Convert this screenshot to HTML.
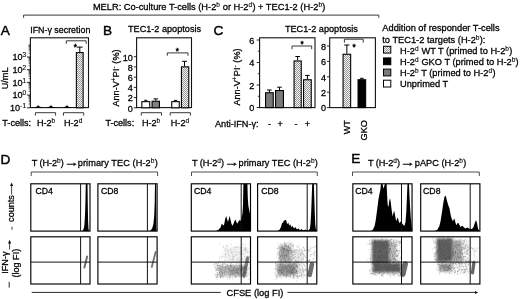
<!DOCTYPE html>
<html><head><meta charset="utf-8"><title>MELR figure</title>
<style>
html,body{margin:0;padding:0;background:#fff;}
body{width:520px;height:299px;overflow:hidden;}
svg{display:block;white-space:pre;font-family:"Liberation Sans",Arial,sans-serif;fill:#000;}
text{stroke:#000;stroke-width:0.28px;}
.pl{stroke:#000;stroke-width:0.45px;}
.st{stroke:#000;stroke-width:0.45px;}
</style></head><body>
<svg width="520" height="299" viewBox="0 0 520 299">
<defs>
<pattern id="hatch" width="2" height="2" patternUnits="userSpaceOnUse">
<rect width="2" height="2" fill="#f4f4f4"/>
<rect x="0" y="0" width="1" height="1" fill="#969696"/>
<rect x="1" y="1" width="1" height="1" fill="#969696"/>
</pattern>
<filter id="b1" x="-30%" y="-30%" width="160%" height="160%"><feGaussianBlur stdDeviation="1.5"/></filter>
<filter id="b4" x="-30%" y="-30%" width="160%" height="160%"><feGaussianBlur stdDeviation="1.0"/></filter>
<filter id="b2" x="-30%" y="-30%" width="160%" height="160%"><feGaussianBlur stdDeviation="0.8"/></filter>
<filter id="b3" x="-100%" y="-30%" width="300%" height="160%"><feGaussianBlur stdDeviation="0.7"/></filter>
</defs>
<rect width="520" height="299" fill="#fff"/>

<text x="92.9" y="9.6" font-size="9.27" text-anchor="start" >MELR: Co-culture T-cells (H-2<tspan baseline-shift="3.0" font-size="6.5" letter-spacing="0.25" stroke-width="0.12">b</tspan> or H-2<tspan baseline-shift="3.0" font-size="6.5" letter-spacing="0.25" stroke-width="0.12">d</tspan>) + TEC1-2 (H-2<tspan baseline-shift="3.0" font-size="6.5" letter-spacing="0.25" stroke-width="0.12">b</tspan>)</text>
<polyline points="23.6,17.8 23.6,15.1 378.8,15.1 378.8,17.8" fill="none" stroke="#222" stroke-width="0.9"/>
<text x="0.8" y="34.6" font-size="13.6" text-anchor="start" class="pl">A</text>
<text x="30.2" y="33.1" font-size="8.9" text-anchor="start" >IFN-γ secretion</text>
<rect x="30.4" y="37.8" width="58.1" height="69.8" fill="none" stroke="#111" stroke-width="1.1"/>
<line x1="27" y1="57.0" x2="30" y2="57.0" stroke="#111" stroke-width="0.9"/>
<text x="26.4" y="60.3" font-size="9.1" text-anchor="end" >10<tspan baseline-shift="3.0" font-size="6.5" letter-spacing="0.25" stroke-width="0.12">3</tspan></text>
<line x1="27" y1="69.7" x2="30" y2="69.7" stroke="#111" stroke-width="0.9"/>
<text x="26.4" y="73.0" font-size="9.1" text-anchor="end" >10<tspan baseline-shift="3.0" font-size="6.5" letter-spacing="0.25" stroke-width="0.12">2</tspan></text>
<line x1="27" y1="82.4" x2="30" y2="82.4" stroke="#111" stroke-width="0.9"/>
<text x="26.4" y="85.7" font-size="9.1" text-anchor="end" >10<tspan baseline-shift="3.0" font-size="6.5" letter-spacing="0.25" stroke-width="0.12">1</tspan></text>
<line x1="27" y1="95.1" x2="30" y2="95.1" stroke="#111" stroke-width="0.9"/>
<text x="26.4" y="98.39999999999999" font-size="9.1" text-anchor="end" >10<tspan baseline-shift="3.0" font-size="6.5" letter-spacing="0.25" stroke-width="0.12">0</tspan></text>
<line x1="27" y1="107.8" x2="30" y2="107.8" stroke="#111" stroke-width="0.9"/>
<text x="26.4" y="111.1" font-size="9.1" text-anchor="end" >10<tspan baseline-shift="3.0" font-size="6.5" letter-spacing="0.25" stroke-width="0.12">-1</tspan></text>
<line x1="28.6" y1="103.97691905506744" x2="30" y2="103.97691905506744" stroke="#111" stroke-width="0.6"/>
<line x1="28.6" y1="101.74056006506028" x2="30" y2="101.74056006506028" stroke="#111" stroke-width="0.6"/>
<line x1="28.6" y1="100.15383811013487" x2="30" y2="100.15383811013487" stroke="#111" stroke-width="0.6"/>
<line x1="28.6" y1="98.92308094493256" x2="30" y2="98.92308094493256" stroke="#111" stroke-width="0.6"/>
<line x1="28.6" y1="97.91747912012772" x2="30" y2="97.91747912012772" stroke="#111" stroke-width="0.6"/>
<line x1="28.6" y1="97.06725489181893" x2="30" y2="97.06725489181893" stroke="#111" stroke-width="0.6"/>
<line x1="28.6" y1="96.33075716520231" x2="30" y2="96.33075716520231" stroke="#111" stroke-width="0.6"/>
<line x1="28.6" y1="95.68112013012058" x2="30" y2="95.68112013012058" stroke="#111" stroke-width="0.6"/>
<line x1="28.6" y1="91.27691905506744" x2="30" y2="91.27691905506744" stroke="#111" stroke-width="0.6"/>
<line x1="28.6" y1="89.04056006506029" x2="30" y2="89.04056006506029" stroke="#111" stroke-width="0.6"/>
<line x1="28.6" y1="87.45383811013488" x2="30" y2="87.45383811013488" stroke="#111" stroke-width="0.6"/>
<line x1="28.6" y1="86.22308094493256" x2="30" y2="86.22308094493256" stroke="#111" stroke-width="0.6"/>
<line x1="28.6" y1="85.21747912012772" x2="30" y2="85.21747912012772" stroke="#111" stroke-width="0.6"/>
<line x1="28.6" y1="84.36725489181893" x2="30" y2="84.36725489181893" stroke="#111" stroke-width="0.6"/>
<line x1="28.6" y1="83.63075716520231" x2="30" y2="83.63075716520231" stroke="#111" stroke-width="0.6"/>
<line x1="28.6" y1="82.98112013012057" x2="30" y2="82.98112013012057" stroke="#111" stroke-width="0.6"/>
<line x1="28.6" y1="78.57691905506744" x2="30" y2="78.57691905506744" stroke="#111" stroke-width="0.6"/>
<line x1="28.6" y1="76.34056006506029" x2="30" y2="76.34056006506029" stroke="#111" stroke-width="0.6"/>
<line x1="28.6" y1="74.75383811013486" x2="30" y2="74.75383811013486" stroke="#111" stroke-width="0.6"/>
<line x1="28.6" y1="73.52308094493256" x2="30" y2="73.52308094493256" stroke="#111" stroke-width="0.6"/>
<line x1="28.6" y1="72.51747912012772" x2="30" y2="72.51747912012772" stroke="#111" stroke-width="0.6"/>
<line x1="28.6" y1="71.66725489181894" x2="30" y2="71.66725489181894" stroke="#111" stroke-width="0.6"/>
<line x1="28.6" y1="70.93075716520232" x2="30" y2="70.93075716520232" stroke="#111" stroke-width="0.6"/>
<line x1="28.6" y1="70.28112013012057" x2="30" y2="70.28112013012057" stroke="#111" stroke-width="0.6"/>
<line x1="28.6" y1="65.87691905506745" x2="30" y2="65.87691905506745" stroke="#111" stroke-width="0.6"/>
<line x1="28.6" y1="63.640560065060285" x2="30" y2="63.640560065060285" stroke="#111" stroke-width="0.6"/>
<line x1="28.6" y1="62.053838110134876" x2="30" y2="62.053838110134876" stroke="#111" stroke-width="0.6"/>
<line x1="28.6" y1="60.82308094493256" x2="30" y2="60.82308094493256" stroke="#111" stroke-width="0.6"/>
<line x1="28.6" y1="59.81747912012772" x2="30" y2="59.81747912012772" stroke="#111" stroke-width="0.6"/>
<line x1="28.6" y1="58.96725489181894" x2="30" y2="58.96725489181894" stroke="#111" stroke-width="0.6"/>
<line x1="28.6" y1="58.23075716520231" x2="30" y2="58.23075716520231" stroke="#111" stroke-width="0.6"/>
<line x1="28.6" y1="57.581120130120574" x2="30" y2="57.581120130120574" stroke="#111" stroke-width="0.6"/>
<line x1="28.6" y1="53.17691905506744" x2="30" y2="53.17691905506744" stroke="#111" stroke-width="0.6"/>
<line x1="28.6" y1="50.94056006506028" x2="30" y2="50.94056006506028" stroke="#111" stroke-width="0.6"/>
<line x1="28.6" y1="49.35383811013487" x2="30" y2="49.35383811013487" stroke="#111" stroke-width="0.6"/>
<line x1="28.6" y1="48.12308094493256" x2="30" y2="48.12308094493256" stroke="#111" stroke-width="0.6"/>
<line x1="28.6" y1="47.117479120127726" x2="30" y2="47.117479120127726" stroke="#111" stroke-width="0.6"/>
<line x1="28.6" y1="46.267254891818936" x2="30" y2="46.267254891818936" stroke="#111" stroke-width="0.6"/>
<line x1="28.6" y1="45.53075716520232" x2="30" y2="45.53075716520232" stroke="#111" stroke-width="0.6"/>
<line x1="28.6" y1="44.88112013012057" x2="30" y2="44.88112013012057" stroke="#111" stroke-width="0.6"/>
<text transform="translate(7.9 78.4) rotate(-90)" font-size="9.1" text-anchor="middle" >U/mL</text>
<path d="M33.900000000000006,108 L35.6,106.9 L37.0,106.4 L37.7,105.4 L38.7,105.4 L39.400000000000006,106.4 L40.800000000000004,106.9 L42.5,108Z" fill="#000"/>
<path d="M46.6,108 L48.3,106.9 L49.699999999999996,106.4 L50.4,105.4 L51.4,105.4 L52.1,106.4 L53.5,106.9 L55.199999999999996,108Z" fill="#000"/>
<path d="M62.60000000000001,108 L64.30000000000001,106.9 L65.7,106.4 L66.4,105.4 L67.4,105.4 L68.10000000000001,106.4 L69.5,106.9 L71.2,108Z" fill="#000"/>
<line x1="79.8" y1="52" x2="79.8" y2="47.1" stroke="#000" stroke-width="1.0"/>
<line x1="77.0" y1="47.1" x2="82.6" y2="47.1" stroke="#000" stroke-width="1.0"/>
<rect x="76.35" y="52.55" width="6.8" height="55.25" fill="url(#hatch)" stroke="#000" stroke-width="1.1"/>
<polyline points="66.3,43.8 66.3,40.8 86.2,40.8 86.2,43.8" fill="none" stroke="#222" stroke-width="0.9"/>
<text x="75.4" y="50.3" font-size="8.2" text-anchor="middle" class="st">*</text>
<polyline points="35.4,115.60000000000001 35.4,112.7 55.6,112.7 55.6,115.60000000000001" fill="none" stroke="#222" stroke-width="0.9"/>
<polyline points="63.5,115.60000000000001 63.5,112.7 83.7,112.7 83.7,115.60000000000001" fill="none" stroke="#222" stroke-width="0.9"/>
<text x="2.3" y="126.2" font-size="9.1" text-anchor="start" >T-cells:</text>
<text x="36.9" y="126.2" font-size="9.1" text-anchor="start" >H-2<tspan baseline-shift="3.0" font-size="6.5" letter-spacing="0.25" stroke-width="0.12">b</tspan></text>
<text x="64" y="126.2" font-size="9.1" text-anchor="start" >H-2<tspan baseline-shift="3.0" font-size="6.5" letter-spacing="0.25" stroke-width="0.12">d</tspan></text>
<text x="103" y="34.6" font-size="13.6" text-anchor="start" class="pl">B</text>
<text x="128.0" y="31.7" font-size="9.13" text-anchor="start" >TEC1-2 apoptosis</text>
<rect x="136.6" y="37.8" width="54.9" height="69.8" fill="none" stroke="#111" stroke-width="1.1"/>
<line x1="133.8" y1="107.8" x2="136.6" y2="107.8" stroke="#111" stroke-width="0.9"/>
<text x="132.9" y="111.7" font-size="9.1" text-anchor="end" >0</text>
<line x1="133.8" y1="97.58" x2="136.6" y2="97.58" stroke="#111" stroke-width="0.9"/>
<text x="132.9" y="101.48" font-size="9.1" text-anchor="end" >2</text>
<line x1="133.8" y1="87.36" x2="136.6" y2="87.36" stroke="#111" stroke-width="0.9"/>
<text x="132.9" y="91.26" font-size="9.1" text-anchor="end" >4</text>
<line x1="133.8" y1="77.13999999999999" x2="136.6" y2="77.13999999999999" stroke="#111" stroke-width="0.9"/>
<text x="132.9" y="81.03999999999999" font-size="9.1" text-anchor="end" >6</text>
<line x1="133.8" y1="66.91999999999999" x2="136.6" y2="66.91999999999999" stroke="#111" stroke-width="0.9"/>
<text x="132.9" y="70.82" font-size="9.1" text-anchor="end" >8</text>
<line x1="133.8" y1="56.699999999999996" x2="136.6" y2="56.699999999999996" stroke="#111" stroke-width="0.9"/>
<text x="132.9" y="60.599999999999994" font-size="9.1" text-anchor="end" >10</text>
<text transform="translate(119.3 78) rotate(-90)" font-size="9.1" text-anchor="middle" >Ann-V<tspan baseline-shift="3.0" font-size="6.5" letter-spacing="0.25" stroke-width="0.12">+</tspan>PI<tspan baseline-shift="3.0" font-size="6.5" letter-spacing="0.25" stroke-width="0.12">-</tspan> (%)</text>
<line x1="145.8" y1="101.1" x2="145.8" y2="100.3" stroke="#000" stroke-width="1.0"/>
<line x1="144.20000000000002" y1="100.3" x2="147.4" y2="100.3" stroke="#000" stroke-width="1.0"/>
<rect x="141.85000000000002" y="101.64999999999999" width="7.9" height="6.15" fill="#fff" stroke="#000" stroke-width="1.1"/>
<line x1="155.75" y1="100.7" x2="155.75" y2="98.9" stroke="#000" stroke-width="1.0"/>
<line x1="153.45" y1="98.9" x2="158.05" y2="98.9" stroke="#000" stroke-width="1.0"/>
<rect x="152.05" y="101.25" width="7.4" height="6.55" fill="#808080" stroke="#000" stroke-width="1.1"/>
<line x1="175.5" y1="101.1" x2="175.5" y2="100.4" stroke="#000" stroke-width="1.0"/>
<line x1="173.9" y1="100.4" x2="177.1" y2="100.4" stroke="#000" stroke-width="1.0"/>
<rect x="171.75" y="101.64999999999999" width="7.5" height="6.15" fill="#fff" stroke="#000" stroke-width="1.1"/>
<line x1="184.5" y1="66.3" x2="184.5" y2="61.3" stroke="#000" stroke-width="1.0"/>
<line x1="182.1" y1="61.3" x2="186.9" y2="61.3" stroke="#000" stroke-width="1.0"/>
<rect x="181.45000000000002" y="66.85" width="7.3" height="40.95" fill="url(#hatch)" stroke="#000" stroke-width="1.1"/>
<polyline points="167.3,55.699999999999996 167.3,52.9 188,52.9 188,55.699999999999996" fill="none" stroke="#222" stroke-width="0.9"/>
<text x="177.3" y="53.8" font-size="8.2" text-anchor="middle" class="st">*</text>
<polyline points="141.3,115.60000000000001 141.3,112.7 161.5,112.7 161.5,115.60000000000001" fill="none" stroke="#222" stroke-width="0.9"/>
<polyline points="170.2,115.60000000000001 170.2,112.7 190.4,112.7 190.4,115.60000000000001" fill="none" stroke="#222" stroke-width="0.9"/>
<text x="105.4" y="126.2" font-size="9.1" text-anchor="start" >T-cells:</text>
<text x="141.9" y="126.2" font-size="9.1" text-anchor="start" >H-2<tspan baseline-shift="3.0" font-size="6.5" letter-spacing="0.25" stroke-width="0.12">b</tspan></text>
<text x="170.8" y="126.2" font-size="9.1" text-anchor="start" >H-2<tspan baseline-shift="3.0" font-size="6.5" letter-spacing="0.25" stroke-width="0.12">d</tspan></text>
<text x="213.6" y="34.6" font-size="13.6" text-anchor="start" class="pl">C</text>
<text x="284.9" y="31.6" font-size="9.13" text-anchor="start" >TEC1-2 apoptosis</text>
<rect x="259.6" y="37.8" width="55.4" height="69.8" fill="none" stroke="#111" stroke-width="1.1"/>
<line x1="256.7" y1="107.5" x2="259.6" y2="107.5" stroke="#111" stroke-width="0.9"/>
<text x="254.3" y="111.3" font-size="9.1" text-anchor="end" >0</text>
<line x1="257.8" y1="96.25" x2="259.6" y2="96.25" stroke="#111" stroke-width="0.8"/>
<line x1="256.7" y1="85.0" x2="259.6" y2="85.0" stroke="#111" stroke-width="0.9"/>
<text x="254.3" y="88.8" font-size="9.1" text-anchor="end" >2</text>
<line x1="257.8" y1="73.75" x2="259.6" y2="73.75" stroke="#111" stroke-width="0.8"/>
<line x1="256.7" y1="62.5" x2="259.6" y2="62.5" stroke="#111" stroke-width="0.9"/>
<text x="254.3" y="66.3" font-size="9.1" text-anchor="end" >4</text>
<line x1="257.8" y1="51.25" x2="259.6" y2="51.25" stroke="#111" stroke-width="0.8"/>
<line x1="256.7" y1="40.0" x2="259.6" y2="40.0" stroke="#111" stroke-width="0.9"/>
<text x="254.3" y="43.8" font-size="9.1" text-anchor="end" >6</text>
<text transform="translate(240.2 77) rotate(-90)" font-size="9.1" text-anchor="middle" >Ann-V<tspan baseline-shift="3.0" font-size="6.5" letter-spacing="0.25" stroke-width="0.12">+</tspan>PI<tspan baseline-shift="3.0" font-size="6.5" letter-spacing="0.25" stroke-width="0.12">-</tspan> (%)</text>
<line x1="269.4" y1="92.2" x2="269.4" y2="90" stroke="#000" stroke-width="1.0"/>
<line x1="267.09999999999997" y1="90" x2="271.7" y2="90" stroke="#000" stroke-width="1.0"/>
<rect x="265.55" y="92.75" width="7.7" height="14.85" fill="#7a7a7a" stroke="#000" stroke-width="1.1"/>
<line x1="279.5" y1="90" x2="279.5" y2="87.2" stroke="#000" stroke-width="1.0"/>
<line x1="277.2" y1="87.2" x2="281.8" y2="87.2" stroke="#000" stroke-width="1.0"/>
<rect x="275.55" y="90.55" width="7.9" height="17.05" fill="#7a7a7a" stroke="#000" stroke-width="1.1"/>
<line x1="297.65" y1="60.4" x2="297.65" y2="56.5" stroke="#000" stroke-width="1.0"/>
<line x1="295.34999999999997" y1="56.5" x2="299.95" y2="56.5" stroke="#000" stroke-width="1.0"/>
<rect x="294.05" y="60.949999999999996" width="7.2" height="46.65" fill="url(#hatch)" stroke="#000" stroke-width="1.1"/>
<line x1="307.4" y1="79.2" x2="307.4" y2="75.4" stroke="#000" stroke-width="1.0"/>
<line x1="305.09999999999997" y1="75.4" x2="309.7" y2="75.4" stroke="#000" stroke-width="1.0"/>
<rect x="303.55" y="79.75" width="7.7" height="27.85" fill="url(#hatch)" stroke="#000" stroke-width="1.1"/>
<polyline points="292,49.2 292,46 311.7,46 311.7,49.2" fill="none" stroke="#222" stroke-width="0.9"/>
<text x="302" y="46.5" font-size="8.2" text-anchor="middle" class="st">*</text>
<rect x="329.7" y="37.8" width="45.7" height="69.8" fill="none" stroke="#111" stroke-width="1.1"/>
<line x1="327" y1="107.6" x2="329.7" y2="107.6" stroke="#111" stroke-width="0.9"/>
<text x="326" y="111.39999999999999" font-size="9.1" text-anchor="end" >0</text>
<line x1="327" y1="92.19999999999999" x2="329.7" y2="92.19999999999999" stroke="#111" stroke-width="0.9"/>
<text x="326" y="95.99999999999999" font-size="9.1" text-anchor="end" >2</text>
<line x1="327" y1="76.8" x2="329.7" y2="76.8" stroke="#111" stroke-width="0.9"/>
<text x="326" y="80.6" font-size="9.1" text-anchor="end" >4</text>
<line x1="327" y1="61.39999999999999" x2="329.7" y2="61.39999999999999" stroke="#111" stroke-width="0.9"/>
<text x="326" y="65.19999999999999" font-size="9.1" text-anchor="end" >6</text>
<line x1="327" y1="45.99999999999999" x2="329.7" y2="45.99999999999999" stroke="#111" stroke-width="0.9"/>
<text x="326" y="49.79999999999999" font-size="9.1" text-anchor="end" >8</text>
<line x1="346.85" y1="53.7" x2="346.85" y2="45" stroke="#000" stroke-width="1.0"/>
<line x1="344.25" y1="45" x2="349.45000000000005" y2="45" stroke="#000" stroke-width="1.0"/>
<rect x="343.05" y="54.25" width="7.6" height="53.35" fill="url(#hatch)" stroke="#000" stroke-width="1.1"/>
<line x1="361.85" y1="79.2" x2="361.85" y2="78.3" stroke="#000" stroke-width="1.0"/>
<line x1="360.05" y1="78.3" x2="363.65000000000003" y2="78.3" stroke="#000" stroke-width="1.0"/>
<rect x="358.05" y="79.75" width="7.6" height="27.85" fill="#000" stroke="#000" stroke-width="1.1"/>
<polyline points="344.4,42.6 344.4,39.2 363.2,39.2 363.2,42.6" fill="none" stroke="#222" stroke-width="0.9"/>
<text x="354.2" y="50.3" font-size="8.2" text-anchor="middle" class="st">*</text>
<text x="215" y="127" font-size="9.15" text-anchor="start" >Anti-IFN-γ:</text>
<text x="269.6" y="127" font-size="9.1" text-anchor="middle" >-</text>
<text x="280.2" y="127" font-size="9.1" text-anchor="middle" >+</text>
<text x="296.1" y="127" font-size="9.1" text-anchor="middle" >-</text>
<text x="307.4" y="127" font-size="9.1" text-anchor="middle" >+</text>
<text transform="translate(350.4 120.2) rotate(-90)" font-size="9.1" text-anchor="end" >WT</text>
<text transform="translate(367.2 120.2) rotate(-90)" font-size="9.1" text-anchor="end" >GKO</text>
<text x="382.3" y="31.3" font-size="9.28" text-anchor="start" >Addition of responder T-cells</text>
<text x="382.3" y="42.5" font-size="9.28" text-anchor="start" >to TEC1-2 targets (H-2<tspan baseline-shift="3.0" font-size="6.5" letter-spacing="0.25" stroke-width="0.12">b</tspan>):</text>
<rect x="383.5" y="46.3" width="7.3" height="6.8" fill="url(#hatch)" stroke="#000" stroke-width="1.0"/>
<rect x="383.5" y="57.9" width="7.3" height="6.8" fill="#000" stroke="#000" stroke-width="1.0"/>
<rect x="383.5" y="69.1" width="7.3" height="6.8" fill="#7a7a7a" stroke="#000" stroke-width="1.0"/>
<rect x="383.5" y="80.2" width="7.3" height="6.8" fill="#fff" stroke="#000" stroke-width="1.0"/>
<text x="400" y="53.6" font-size="9.28" text-anchor="start" >H-2<tspan baseline-shift="3.0" font-size="6.5" letter-spacing="0.25" stroke-width="0.12">d</tspan> WT T (primed to H-2<tspan baseline-shift="3.0" font-size="6.5" letter-spacing="0.25" stroke-width="0.12">b</tspan>)</text>
<text x="400" y="64.8" font-size="9.28" text-anchor="start" >H-2<tspan baseline-shift="3.0" font-size="6.5" letter-spacing="0.25" stroke-width="0.12">d</tspan> GKO T (primed to H-2<tspan baseline-shift="3.0" font-size="6.5" letter-spacing="0.25" stroke-width="0.12">b</tspan>)</text>
<text x="400" y="76" font-size="9.28" text-anchor="start" >H-2<tspan baseline-shift="3.0" font-size="6.5" letter-spacing="0.25" stroke-width="0.12">b</tspan> T (primed to H-2<tspan baseline-shift="3.0" font-size="6.5" letter-spacing="0.25" stroke-width="0.12">d</tspan>)</text>
<text x="400" y="87.1" font-size="9.28" text-anchor="start" >Unprimed T</text>
<text x="0.4" y="163.5" font-size="13.6" text-anchor="start" class="pl">D</text>
<text x="351.3" y="163.1" font-size="13.6" text-anchor="start" class="pl">E</text>
<text x="31.7" y="165.5" font-size="9.2" textLength="32.1" lengthAdjust="spacing">T (H-2<tspan baseline-shift="3.0" font-size="6.5" letter-spacing="0.25" stroke-width="0.12">b</tspan>)</text>
<text transform="translate(63.900000000000006 166.1) scale(1.42 1)" font-size="11" stroke-width="0.1">→</text>
<text x="77.8" y="165.5" font-size="9.2" textLength="79.9" lengthAdjust="spacing">primary TEC (H-2<tspan baseline-shift="3.0" font-size="6.5" letter-spacing="0.25" stroke-width="0.12">b</tspan>)</text>
<text x="192" y="165.8" font-size="9.2" textLength="32.1" lengthAdjust="spacing">T (H-2<tspan baseline-shift="3.0" font-size="6.5" letter-spacing="0.25" stroke-width="0.12">d</tspan>)</text>
<text transform="translate(224.2 166.4) scale(1.42 1)" font-size="11" stroke-width="0.1">→</text>
<text x="238.5" y="165.8" font-size="9.2" textLength="79.4" lengthAdjust="spacing">primary TEC (H-2<tspan baseline-shift="3.0" font-size="6.5" letter-spacing="0.25" stroke-width="0.12">b</tspan>)</text>
<text x="367.9" y="165.8" font-size="9.2" textLength="32.1" lengthAdjust="spacing">T (H-2<tspan baseline-shift="3.0" font-size="6.5" letter-spacing="0.25" stroke-width="0.12">d</tspan>)</text>
<text transform="translate(400.09999999999997 166.4) scale(1.42 1)" font-size="11" stroke-width="0.1">→</text>
<text x="414.79999999999995" y="165.8" font-size="9.2" textLength="51.4" lengthAdjust="spacing">pAPC (H-2<tspan baseline-shift="3.0" font-size="6.5" letter-spacing="0.25" stroke-width="0.12">b</tspan>)</text>
<polyline points="31.2,176 31.2,172 157.6,172 157.6,176" fill="none" stroke="#222" stroke-width="0.8"/>
<polyline points="191.5,176 191.5,172 317.3,172 317.3,176" fill="none" stroke="#222" stroke-width="0.8"/>
<polyline points="352.5,176 352.5,172 479.3,172 479.3,176" fill="none" stroke="#222" stroke-width="0.8"/>
<path d="M82.2,231.0 L83.4,229.6 L84.3,226.0 L84.9,217.0 L85.4,203.0 L85.8,183.8 L87.5,183.8 L87.8,205.0 L88.1,221.0 L88.5,228.5 L89.0,231.0Z" fill="#000"/>
<rect x="30.8" y="183.8" width="59.2" height="47.3" fill="none" stroke="#000" stroke-width="1.15"/>
<line x1="80.6" y1="183.8" x2="80.6" y2="231.1" stroke="#111" stroke-width="1.0"/>
<text x="35.4" y="193.8" font-size="8.7" text-anchor="start" >CD4</text>
<clipPath id="c30"><rect x="30.8" y="236.8" width="59.2" height="47.19999999999999"/></clipPath>
<g clip-path="url(#c30)">
<line x1="87.1" y1="256.5" x2="84.4" y2="267.5" stroke="#444" stroke-width="1.9" opacity="0.8" stroke-linecap="round" filter="url(#b3)"/>
</g>
<rect x="30.8" y="236.8" width="59.2" height="47.2" fill="none" stroke="#000" stroke-width="1.15"/>
<line x1="80.6" y1="236.8" x2="80.6" y2="284" stroke="#111" stroke-width="1.0"/>
<line x1="30.8" y1="262.1" x2="90.0" y2="262.1" stroke="#111" stroke-width="1.0"/>
<path d="M149.5,231.0 L151.0,230.0 L152.3,228.0 L153.4,224.0 L154.2,216.0 L154.7,203.0 L155.0,183.8 L156.1,183.8 L156.4,231.0Z" fill="#000"/>
<rect x="97.9" y="183.8" width="59.2" height="47.3" fill="none" stroke="#000" stroke-width="1.15"/>
<line x1="147.4" y1="183.8" x2="147.4" y2="231.1" stroke="#111" stroke-width="1.0"/>
<text x="100.9" y="193.8" font-size="8.7" text-anchor="start" >CD8</text>
<clipPath id="c97"><rect x="97.9" y="236.8" width="59.2" height="47.19999999999999"/></clipPath>
<g clip-path="url(#c97)">
<line x1="155.6" y1="252" x2="151.8" y2="267" stroke="#444" stroke-width="1.8" opacity="0.75" stroke-linecap="round" filter="url(#b3)"/>
</g>
<rect x="97.9" y="236.8" width="59.2" height="47.2" fill="none" stroke="#000" stroke-width="1.15"/>
<line x1="147.4" y1="236.8" x2="147.4" y2="284" stroke="#111" stroke-width="1.0"/>
<line x1="97.9" y1="262.1" x2="157.10000000000002" y2="262.1" stroke="#111" stroke-width="1.0"/>
<path d="M216.0,231.0 L218.5,229.8 L220.5,227.5 L221.5,224.5 L222.2,223.6 L223.0,225.5 L224.0,225.0 L225.2,219.0 L226.2,216.0 L227.2,219.5 L228.0,222.0 L228.8,219.0 L229.6,216.0 L230.5,219.5 L231.4,223.5 L232.3,225.8 L233.4,224.0 L234.5,221.0 L235.4,219.6 L236.4,222.0 L237.3,223.8 L238.5,221.5 L239.6,220.0 L240.6,221.0 L241.5,218.0 L242.4,214.0 L243.0,205.0 L243.4,183.8 L247.4,183.8 L247.8,198.0 L248.4,206.0 L249.4,211.0 L250.4,216.0 L250.9,231.0Z" fill="#000"/>
<rect x="191.3" y="183.8" width="59.2" height="47.3" fill="none" stroke="#000" stroke-width="1.15"/>
<line x1="241.2" y1="183.8" x2="241.2" y2="231.1" stroke="#111" stroke-width="1.0"/>
<text x="193.9" y="193.8" font-size="8.7" text-anchor="start" >CD4</text>
<clipPath id="c191"><rect x="191.3" y="236.8" width="59.2" height="47.19999999999999"/></clipPath>
<g clip-path="url(#c191)">
<rect x="218" y="266" width="28" height="9.5" fill="#555" opacity="0.36" filter="url(#b1)"/>
<rect x="229" y="265.5" width="18" height="10.5" fill="#555" opacity="0.27" filter="url(#b1)"/>
<rect x="224" y="247" width="25" height="14" fill="#555" opacity="0.08" filter="url(#b1)"/>
<line x1="247.6" y1="258" x2="243.9" y2="276" stroke="#444" stroke-width="3.4" opacity="0.66" stroke-linecap="round" filter="url(#b3)"/>
<path d="M227.5 266.3h.7M232.8 271.1h.7M216.7 265.4h.7M229.9 266.5h.7M237.7 268.9h.7M249.7 268.5h.7M221.4 275.7h.7M220.2 268.3h.7M233.9 266.9h.7M236.8 272.3h.7M229.8 275.3h.7M222.4 275.2h.7M238.5 268.6h.7M229.4 270.0h.7M216.2 270.1h.7M243.2 273.6h.7M232.2 277.3h.7M230.9 273.1h.7M239.1 267.8h.7M228.2 270.0h.7M221.7 274.6h.7M220.2 276.9h.7M217.0 276.4h.7M242.9 268.9h.7M229.9 264.2h.7M221.7 271.3h.7M234.8 269.8h.7M224.9 272.2h.7M231.1 263.6h.7M245.3 272.6h.7M228.1 272.9h.7M218.8 266.5h.7M226.9 266.0h.7M219.1 276.0h.7M236.2 269.4h.7M229.5 278.9h.7M230.4 265.4h.7M226.7 268.2h.7M218.3 265.6h.7M235.0 277.4h.7M243.3 268.1h.7M221.6 273.2h.7M226.9 279.3h.7M244.1 272.1h.7M222.0 264.3h.7M216.7 274.2h.7M243.7 278.2h.7M246.0 267.6h.7M222.8 277.6h.7M241.0 275.0h.7M217.2 272.5h.7M239.2 274.7h.7M227.7 266.6h.7M230.8 265.7h.7M221.7 276.8h.7M222.4 270.1h.7M226.6 264.0h.7M246.1 275.5h.7M231.6 265.4h.7M223.8 272.7h.7M223.7 276.6h.7M225.7 276.6h.7M230.8 270.5h.7M234.1 266.6h.7M216.4 269.7h.7M238.1 270.7h.7M233.9 271.1h.7M223.6 272.7h.7M234.2 267.6h.7M234.0 273.3h.7M229.0 276.4h.7M240.6 265.7h.7M236.2 265.1h.7M219.4 267.4h.7M217.2 274.4h.7M220.5 264.4h.7M245.1 276.7h.7M224.8 275.5h.7M219.7 269.1h.7M221.4 265.9h.7M233.5 268.6h.7M235.5 277.3h.7M241.8 267.5h.7M217.5 264.9h.7M231.6 266.4h.7M222.3 272.8h.7M220.7 270.3h.7M220.0 274.2h.7M219.0 275.3h.7M229.6 277.7h.7M225.7 268.2h.7M219.7 267.0h.7M225.2 269.7h.7M232.5 265.2h.7M226.1 271.6h.7M219.1 265.8h.7M240.8 275.8h.7M226.6 277.2h.7M228.0 271.1h.7M228.7 266.1h.7M218.2 265.4h.7M220.1 271.2h.7M225.1 271.1h.7M220.1 277.3h.7M246.2 276.8h.7M225.9 269.2h.7M230.3 270.8h.7M216.1 269.9h.7M218.4 267.3h.7M232.6 272.5h.7M239.8 267.7h.7M248.7 274.1h.7M218.8 270.5h.7M239.8 270.5h.7M233.3 273.4h.7M236.2 272.3h.7M224.0 269.0h.7M220.2 271.3h.7M235.4 262.9h.7M241.5 269.9h.7M239.0 268.1h.7M218.2 268.5h.7M241.2 269.0h.7M230.4 270.6h.7M237.2 267.7h.7M239.2 265.5h.7M217.7 275.0h.7M237.2 271.6h.7M232.9 268.3h.7M247.5 270.1h.7M243.6 267.4h.7M223.6 271.6h.7M217.4 265.4h.7M239.5 273.4h.7M224.6 263.6h.7M214.7 268.1h.7M219.9 276.1h.7M216.1 263.5h.7M245.0 265.6h.7M224.2 274.5h.7M226.6 265.0h.7M219.8 275.9h.7M223.8 267.9h.7M230.5 274.3h.7M238.8 270.1h.7M241.0 270.6h.7M239.4 263.9h.7M246.7 269.5h.7M225.3 264.5h.7M236.5 270.7h.7M221.8 276.9h.7M232.4 279.8h.7M230.9 265.8h.7M227.8 267.9h.7M235.9 268.4h.7M228.0 268.4h.7M217.4 268.5h.7M230.3 265.3h.7M224.7 271.1h.7M248.1 262.5h.7M216.3 268.1h.7M236.1 276.5h.7M244.6 265.0h.7M220.4 274.3h.7M245.8 272.8h.7M230.3 274.5h.7M225.1 267.3h.7M220.1 275.0h.7M221.0 272.4h.7M228.7 265.6h.7M222.5 273.4h.7M243.3 267.5h.7M246.4 263.4h.7M231.3 266.5h.7M238.2 264.1h.7M225.1 267.5h.7M241.4 265.5h.7M246.1 269.0h.7M223.2 275.9h.7M232.2 270.4h.7M238.0 269.1h.7M223.5 264.6h.7M215.7 277.4h.7M242.5 268.4h.7M223.9 263.7h.7M236.4 269.2h.7M222.5 268.8h.7M249.0 268.8h.7M228.5 268.0h.7M216.3 276.6h.7M220.4 266.2h.7M230.0 262.8h.7M219.8 268.4h.7M240.9 267.1h.7M245.9 273.1h.7M226.1 274.3h.7M243.3 262.4h.7M220.3 277.3h.7M228.4 271.8h.7M246.7 275.8h.7M242.6 266.9h.7M224.8 266.5h.7M222.3 264.0h.7M216.0 276.9h.7M245.3 265.1h.7M217.0 270.1h.7M221.9 273.9h.7M241.0 264.3h.7M242.5 270.4h.7M239.9 268.1h.7M222.2 267.4h.7M230.2 267.1h.7M239.6 262.6h.7M232.2 274.4h.7M217.1 267.1h.7M244.5 267.8h.7M242.8 274.8h.7M247.6 273.3h.7M222.5 267.2h.7M222.6 265.8h.7M215.5 268.0h.7M226.7 273.3h.7M219.1 272.1h.7M237.1 273.7h.7M228.9 277.8h.7M224.9 269.2h.7M244.9 266.6h.7M239.3 276.3h.7M230.1 274.9h.7M230.9 271.6h.7M237.0 272.1h.7M227.1 267.8h.7M233.2 270.4h.7M242.6 265.6h.7M247.7 264.5h.7M243.5 273.9h.7M243.6 268.6h.7M230.3 264.8h.7M221.7 270.0h.7M220.0 277.9h.7M215.3 263.8h.7M244.1 272.4h.7M235.6 272.9h.7M228.9 268.9h.7M215.6 266.3h.7M240.7 265.2h.7M231.7 270.2h.7M217.5 265.0h.7M238.2 275.4h.7M233.8 269.5h.7M248.1 279.1h.7M239.8 276.6h.7M234.5 265.6h.7M241.7 268.6h.7M241.7 269.7h.7M243.1 277.4h.7M222.5 269.6h.7M217.5 277.2h.7M238.4 274.2h.7M217.9 268.6h.7M242.3 275.4h.7M221.2 269.3h.7M241.2 275.1h.7M227.7 265.2h.7M242.1 268.0h.7M238.2 272.8h.7M226.3 266.0h.7M234.3 276.6h.7M220.5 265.9h.7M215.7 269.2h.7M221.7 266.0h.7M235.3 276.7h.7M224.1 273.0h.7M244.1 266.5h.7M215.3 267.6h.7M233.8 274.8h.7M224.3 271.0h.7M229.0 274.9h.7M213.5 265.1h.7M221.2 271.8h.7M242.5 268.9h.7M219.3 272.4h.7M217.4 268.8h.7M238.8 265.7h.7M224.6 274.4h.7M239.4 266.2h.7M231.6 271.8h.7M222.4 264.7h.7M245.2 267.3h.7M241.8 267.8h.7M243.7 277.0h.7M235.5 275.7h.7M232.1 274.1h.7M229.7 266.7h.7M222.4 276.0h.7M221.2 276.6h.7M227.2 264.8h.7M236.8 272.7h.7M217.1 274.5h.7M242.6 275.5h.7M245.8 266.6h.7M222.0 275.4h.7M237.1 266.5h.7M221.0 267.8h.7M226.0 267.6h.7M224.8 267.3h.7M244.3 272.3h.7M215.8 275.0h.7M226.6 265.6h.7M245.6 267.4h.7M216.7 279.0h.7M214.6 274.8h.7M220.7 275.3h.7M225.3 266.6h.7M237.8 272.6h.7M219.1 273.0h.7M235.3 270.2h.7M246.8 265.5h.7M222.4 273.1h.7M228.8 269.7h.7M233.1 270.9h.7M226.8 275.9h.7M237.1 269.3h.7M240.2 270.0h.7M244.4 268.8h.7M238.9 265.6h.7M223.2 267.4h.7M227.8 276.6h.7M219.8 269.1h.7M248.1 268.2h.7M221.9 266.4h.7M229.7 274.9h.7M236.4 270.2h.7M219.5 273.3h.7M243.5 274.7h.7M229.8 277.6h.7M240.0 271.1h.7M235.4 272.8h.7M217.1 274.6h.7M236.1 271.3h.7M237.0 262.6h.7M224.2 249.8h.7M235.1 254.3h.7M225.4 251.3h.7M221.6 257.0h.7M233.8 252.3h.7M233.2 256.8h.7M231.8 262.1h.7M231.6 251.9h.7M219.2 257.8h.7M230.5 258.9h.7M247.3 259.1h.7M231.9 259.3h.7M243.3 253.8h.7M228.0 255.9h.7M245.2 248.5h.7M238.2 252.2h.7M245.4 249.9h.7M232.8 257.8h.7M228.5 254.0h.7M231.6 249.7h.7M248.1 259.4h.7M247.3 259.2h.7M239.2 262.1h.7M239.7 247.2h.7M227.2 245.9h.7M247.3 260.3h.7M238.6 259.4h.7M244.1 256.5h.7M235.9 259.6h.7M236.6 247.4h.7M236.2 247.2h.7M233.1 260.4h.7M221.0 253.6h.7M240.6 251.1h.7M250.5 256.8h.7M219.3 260.6h.7M231.5 253.1h.7M248.9 256.3h.7M231.0 252.2h.7M235.9 251.5h.7M230.4 248.9h.7M243.6 249.9h.7M237.1 258.8h.7M229.5 256.0h.7M239.1 257.4h.7M246.2 249.6h.7M221.3 257.9h.7M240.4 253.3h.7M237.1 254.1h.7M240.9 254.3h.7M243.5 245.1h.7M244.9 250.2h.7M245.1 247.5h.7M228.1 252.6h.7M239.7 254.6h.7M222.9 256.3h.7M247.4 251.4h.7M241.1 251.9h.7M233.9 249.0h.7M224.7 257.0h.7M224.2 260.4h.7M225.9 248.8h.7M242.2 259.0h.7M242.7 244.2h.7M238.5 260.5h.7M229.6 243.8h.7M219.0 243.9h.7M229.2 259.7h.7M235.7 255.3h.7M232.8 258.6h.7M229.8 250.7h.7M232.3 256.3h.7M236.9 262.9h.7M241.6 254.6h.7M250.2 248.6h.7M233.8 256.3h.7M239.9 248.2h.7M219.9 256.3h.7M244.8 259.6h.7M245.5 248.1h.7M246.2 259.8h.7M231.8 259.9h.7M226.0 245.9h.7M237.6 246.8h.7M227.7 250.8h.7M223.4 246.7h.7M239.5 252.5h.7M233.6 247.3h.7M225.0 253.7h.7M231.3 244.8h.7M249.5 256.4h.7M244.6 251.8h.7M235.9 262.9h.7M244.3 249.1h.7M240.6 259.8h.7M245.5 244.5h.7M226.3 245.4h.7M237.7 261.1h.7M248.9 252.1h.7M224.6 254.5h.7M241.1 251.0h.7M235.3 265.3h.7M227.6 250.9h.7M249.1 243.7h.7M243.1 261.2h.7M223.0 263.3h.7M239.8 259.8h.7M222.7 247.1h.7M234.9 247.4h.7M242.4 247.8h.7M221.9 261.4h.7M246.5 252.1h.7M225.2 255.0h.7M232.3 254.8h.7M218.0 263.5h.7M217.3 275.7h.7M214.2 266.7h.7M218.5 270.4h.7M215.8 277.3h.7M214.9 264.4h.7M216.1 266.1h.7M220.1 276.6h.7M213.0 265.2h.7M217.1 265.2h.7M218.3 262.5h.7M218.0 268.8h.7M219.7 265.6h.7M214.5 263.4h.7M215.1 270.7h.7M215.4 274.8h.7M217.9 262.7h.7M216.4 263.8h.7M217.4 277.6h.7M219.3 269.9h.7" stroke="#444" stroke-width="0.7" fill="none" opacity="0.45"/>
</g>
<rect x="191.3" y="236.8" width="59.2" height="47.2" fill="none" stroke="#000" stroke-width="1.15"/>
<line x1="241.2" y1="236.8" x2="241.2" y2="284" stroke="#111" stroke-width="1.0"/>
<line x1="191.3" y1="262.1" x2="250.5" y2="262.1" stroke="#111" stroke-width="1.0"/>
<path d="M277.5,231.0 L279.5,229.8 L281.0,227.0 L281.8,224.0 L282.4,222.6 L283.0,223.0 L283.6,221.0 L284.3,220.2 L285.0,220.6 L285.6,219.8 L286.3,220.6 L286.9,223.4 L287.5,224.0 L288.2,222.6 L288.9,224.6 L289.5,225.4 L290.2,224.2 L290.9,225.8 L291.6,227.2 L292.5,225.8 L293.3,227.4 L294.4,228.3 L295.4,227.0 L296.3,228.4 L297.2,229.4 L298.3,228.2 L299.3,229.5 L300.4,230.0 L301.5,229.0 L302.6,230.0 L304.0,230.3 L305.4,229.6 L306.5,230.3 L308.4,230.2 L309.8,229.0 L310.5,224.0 L311.2,212.0 L311.8,195.0 L312.2,183.8 L313.9,183.8 L314.3,198.0 L314.8,214.0 L315.3,225.0 L315.9,229.6 L317.0,231.0Z" fill="#000"/>
<rect x="257.6" y="183.8" width="59.2" height="47.3" fill="none" stroke="#000" stroke-width="1.15"/>
<line x1="307.2" y1="183.8" x2="307.2" y2="231.1" stroke="#111" stroke-width="1.0"/>
<text x="261.20000000000005" y="193.8" font-size="8.7" text-anchor="start" >CD8</text>
<clipPath id="c257"><rect x="257.6" y="236.8" width="59.2" height="47.19999999999999"/></clipPath>
<g clip-path="url(#c257)">
<rect x="279.5" y="246" width="11.0" height="15.5" fill="#555" opacity="0.5" filter="url(#b1)"/>
<rect x="277.5" y="264" width="18.0" height="11" fill="#555" opacity="0.62" filter="url(#b1)"/>
<rect x="291" y="250" width="12" height="24" fill="#555" opacity="0.13" filter="url(#b1)"/>
<line x1="311.9" y1="264.6" x2="309.7" y2="274.8" stroke="#444" stroke-width="4.6" opacity="0.78" stroke-linecap="round" filter="url(#b3)"/>
<path d="M290.6 259.9h.7M284.3 255.5h.7M277.2 252.9h.7M279.7 257.9h.7M282.7 256.6h.7M281.6 250.7h.7M284.1 243.1h.7M292.2 245.7h.7M282.1 244.6h.7M288.4 254.9h.7M284.6 244.8h.7M290.6 245.1h.7M284.4 245.4h.7M285.3 260.9h.7M278.6 245.4h.7M291.3 250.8h.7M289.0 261.2h.7M288.9 250.2h.7M286.9 260.6h.7M290.2 252.8h.7M292.8 250.9h.7M286.3 245.4h.7M284.3 245.7h.7M292.6 252.8h.7M291.8 242.2h.7M287.3 250.0h.7M287.7 247.2h.7M282.9 249.7h.7M282.4 254.1h.7M290.9 252.0h.7M286.4 246.0h.7M281.7 248.2h.7M277.3 254.3h.7M286.0 256.3h.7M283.2 251.7h.7M282.9 253.8h.7M283.7 249.8h.7M290.7 254.0h.7M283.6 258.0h.7M283.1 252.5h.7M278.3 258.1h.7M280.5 260.2h.7M280.0 257.0h.7M288.5 251.4h.7M288.8 250.4h.7M288.7 243.1h.7M292.9 254.5h.7M287.1 250.8h.7M290.7 249.3h.7M282.8 249.2h.7M282.8 248.9h.7M290.4 250.6h.7M280.8 254.8h.7M289.1 250.6h.7M292.0 244.6h.7M284.6 243.8h.7M283.5 258.1h.7M287.6 253.1h.7M287.2 255.3h.7M285.3 252.7h.7M279.0 254.7h.7M289.0 250.5h.7M281.6 247.1h.7M286.2 248.6h.7M292.9 244.0h.7M290.1 260.4h.7M290.3 249.0h.7M284.8 246.5h.7M286.4 261.8h.7M288.7 258.7h.7M282.8 248.8h.7M288.6 246.0h.7M284.5 255.3h.7M287.6 251.0h.7M281.4 246.6h.7M280.7 260.2h.7M287.2 242.9h.7M288.4 251.5h.7M280.8 261.1h.7M285.8 251.5h.7M280.6 260.8h.7M283.9 243.3h.7M292.2 259.8h.7M289.3 263.1h.7M286.4 250.3h.7M288.8 261.0h.7M285.5 245.6h.7M284.9 251.4h.7M287.6 251.4h.7M284.8 259.3h.7M283.4 249.2h.7M283.7 250.0h.7M280.5 247.8h.7M291.2 260.2h.7M290.4 258.0h.7M284.6 261.3h.7M285.8 246.7h.7M288.2 256.8h.7M283.7 248.6h.7M291.8 254.5h.7M282.5 254.7h.7M286.0 245.7h.7M281.7 255.1h.7M278.9 252.4h.7M283.7 247.8h.7M280.0 250.0h.7M291.6 257.5h.7M280.3 256.5h.7M287.0 256.8h.7M288.3 252.0h.7M287.6 261.3h.7M288.7 243.5h.7M281.1 251.3h.7M278.4 248.0h.7M288.4 247.2h.7M284.1 242.1h.7M290.4 242.9h.7M290.1 247.6h.7M280.3 260.1h.7M290.7 251.5h.7M289.5 244.0h.7M289.1 257.7h.7M289.7 250.5h.7M278.8 251.9h.7M293.0 245.2h.7M288.7 252.9h.7M291.0 246.8h.7M278.5 247.8h.7M284.2 257.4h.7M281.9 253.0h.7M290.9 261.0h.7M279.4 258.5h.7M286.2 255.3h.7M284.7 259.7h.7M279.8 248.0h.7M279.2 257.4h.7M285.6 252.8h.7M283.8 243.6h.7M292.4 256.5h.7M291.6 252.3h.7M285.2 244.4h.7M290.2 260.0h.7M287.6 246.5h.7M279.3 246.7h.7M279.5 259.4h.7M281.4 255.5h.7M284.0 251.1h.7M282.5 258.9h.7M283.5 255.6h.7M289.2 259.1h.7M284.7 248.8h.7M288.4 247.0h.7M285.3 243.7h.7M285.4 244.7h.7M291.7 249.8h.7M281.6 250.1h.7M281.5 259.7h.7M291.7 252.4h.7M285.9 245.3h.7M279.7 261.4h.7M293.9 254.6h.7M291.7 255.5h.7M279.8 251.2h.7M287.2 261.2h.7M279.6 253.3h.7M279.0 253.4h.7M282.7 250.5h.7M281.3 255.8h.7M280.7 244.2h.7M285.9 255.1h.7M281.1 252.8h.7M287.9 245.0h.7M285.7 255.9h.7M292.1 259.3h.7M280.6 245.4h.7M289.9 244.9h.7M290.3 250.5h.7M278.0 248.4h.7M286.0 256.1h.7M288.0 259.0h.7M280.8 256.9h.7M288.3 249.8h.7M290.8 243.3h.7M288.3 259.5h.7M281.8 247.2h.7M278.9 255.0h.7M280.7 258.7h.7M280.1 256.1h.7M285.5 255.3h.7M289.3 240.8h.7M284.2 261.1h.7M290.5 259.1h.7M286.9 246.9h.7M288.3 256.3h.7M279.1 261.1h.7M287.5 250.2h.7M283.9 249.4h.7M277.6 242.9h.7M285.3 245.8h.7M287.7 253.6h.7M280.7 261.1h.7M294.0 258.3h.7M291.0 253.8h.7M283.1 261.9h.7M291.2 257.0h.7M287.0 249.7h.7M285.8 249.8h.7M284.5 250.1h.7M282.0 246.7h.7M279.6 250.8h.7M286.2 244.9h.7M282.0 255.4h.7M290.0 256.5h.7M280.4 263.6h.7M283.7 258.8h.7M276.7 248.6h.7M282.9 248.3h.7M288.6 248.0h.7M288.2 245.6h.7M290.5 244.2h.7M290.7 245.0h.7M278.6 255.0h.7M291.7 258.6h.7M286.0 250.5h.7M279.0 255.4h.7M281.4 248.1h.7M287.9 254.2h.7M294.0 257.6h.7M283.7 246.1h.7M291.3 252.3h.7M284.6 255.1h.7M285.9 249.6h.7M288.6 247.1h.7M290.7 248.3h.7M286.5 243.0h.7M283.9 248.5h.7M292.7 246.6h.7M279.2 253.1h.7M287.6 252.5h.7M281.5 262.6h.7M283.0 248.1h.7M290.4 249.7h.7M288.6 260.9h.7M280.0 255.2h.7M284.4 253.7h.7M287.0 253.9h.7M281.6 252.3h.7M282.4 257.3h.7M283.6 254.1h.7M282.4 246.5h.7M289.5 248.7h.7M285.9 255.9h.7M285.2 260.6h.7M282.4 257.5h.7M291.7 264.4h.7M283.3 262.1h.7M279.3 257.0h.7M280.8 246.2h.7M285.1 259.3h.7M293.1 258.6h.7M289.7 247.8h.7M284.7 262.5h.7M283.4 252.1h.7M279.7 256.7h.7M280.5 243.9h.7M280.5 249.9h.7M284.1 256.8h.7M282.8 245.1h.7M277.8 253.8h.7M285.6 255.8h.7M285.8 276.7h.7M294.9 265.8h.7M286.2 267.8h.7M287.6 265.2h.7M290.1 271.1h.7M284.0 264.5h.7M295.1 260.4h.7M290.3 271.9h.7M282.7 273.6h.7M293.0 277.3h.7M279.3 266.6h.7M290.3 272.3h.7M289.9 271.8h.7M279.7 275.5h.7M285.9 268.1h.7M282.3 272.2h.7M284.9 265.4h.7M280.0 270.8h.7M296.2 261.3h.7M285.3 262.1h.7M279.0 268.0h.7M292.2 263.2h.7M286.4 268.9h.7M286.9 262.6h.7M289.7 266.7h.7M283.2 263.2h.7M279.6 264.6h.7M291.5 266.7h.7M295.8 276.2h.7M278.0 272.5h.7M285.2 268.0h.7M291.2 273.1h.7M293.0 271.8h.7M297.6 275.8h.7M283.3 262.2h.7M291.4 270.6h.7M295.8 270.9h.7M283.5 268.9h.7M287.2 268.9h.7M287.9 272.0h.7M286.4 271.0h.7M292.9 264.9h.7M277.5 262.9h.7M292.0 272.4h.7M291.1 272.8h.7M280.9 272.7h.7M295.8 270.8h.7M276.7 266.0h.7M282.5 272.8h.7M286.6 266.9h.7M295.8 263.9h.7M281.6 268.2h.7M284.2 267.8h.7M294.4 273.0h.7M276.0 269.6h.7M287.7 275.1h.7M281.5 269.3h.7M287.0 275.1h.7M275.1 263.4h.7M296.5 265.4h.7M294.1 269.0h.7M290.2 264.5h.7M296.1 267.2h.7M279.7 277.8h.7M284.3 275.3h.7M291.2 273.1h.7M277.0 264.8h.7M287.9 265.7h.7M294.9 266.2h.7M294.8 262.4h.7M283.5 269.9h.7M275.6 269.1h.7M292.6 265.3h.7M299.4 270.1h.7M280.8 271.2h.7M297.7 276.1h.7M288.4 264.0h.7M283.6 264.2h.7M298.0 277.3h.7M285.0 262.2h.7M282.1 273.8h.7M279.8 262.2h.7M289.4 275.0h.7M288.6 270.0h.7M277.3 270.5h.7M282.1 265.7h.7M280.4 274.7h.7M294.4 263.5h.7M296.4 271.2h.7M277.4 270.4h.7M286.3 268.8h.7M280.7 276.1h.7M287.0 276.5h.7M286.9 271.3h.7M280.7 265.5h.7M275.0 267.4h.7M297.0 266.4h.7M289.3 261.3h.7M278.0 260.8h.7M288.6 265.4h.7M290.9 262.8h.7M295.5 264.0h.7M280.8 262.7h.7M283.8 266.0h.7M287.4 273.7h.7M284.0 276.1h.7M291.8 271.1h.7M294.7 272.6h.7M285.1 274.9h.7M293.9 278.1h.7M295.8 272.4h.7M286.6 275.0h.7M294.1 272.9h.7M299.3 276.1h.7M281.7 264.4h.7M285.9 277.4h.7M290.6 273.1h.7M292.1 272.4h.7M286.3 275.8h.7M281.1 273.1h.7M275.4 263.7h.7M292.2 269.8h.7M283.3 276.1h.7M289.3 266.7h.7M289.5 275.1h.7M278.1 274.5h.7M279.2 270.4h.7M281.9 274.9h.7M281.1 269.9h.7M298.7 266.4h.7M288.2 276.6h.7M286.1 266.7h.7M275.3 269.3h.7M286.5 271.3h.7M276.2 276.0h.7M282.7 266.5h.7M286.0 267.6h.7M284.1 274.9h.7M289.6 273.2h.7M295.3 260.7h.7M284.9 277.9h.7M277.3 262.0h.7M284.3 264.8h.7M292.2 269.9h.7M296.1 270.9h.7M286.1 272.3h.7M282.6 276.0h.7M292.9 270.5h.7M296.4 266.2h.7M283.6 268.2h.7M298.1 266.6h.7M297.1 269.7h.7M277.9 269.1h.7M297.1 276.8h.7M286.6 272.7h.7M283.8 270.8h.7M287.0 264.7h.7M285.0 265.8h.7M289.5 264.5h.7M293.0 276.2h.7M281.5 270.9h.7M291.9 273.5h.7M277.3 278.5h.7M289.0 266.3h.7M296.6 267.1h.7M293.1 276.1h.7M285.5 275.8h.7M278.3 268.7h.7M288.0 269.6h.7M283.7 274.7h.7M293.6 271.9h.7M289.7 275.9h.7M293.0 274.2h.7M277.9 269.8h.7M283.3 275.4h.7M281.9 264.2h.7M293.0 267.3h.7M293.5 268.0h.7M275.1 265.8h.7M275.3 275.0h.7M276.7 265.0h.7M289.0 271.6h.7M280.6 274.3h.7M293.4 274.0h.7M274.8 262.9h.7M289.4 266.8h.7M286.2 275.0h.7M299.0 264.5h.7M299.0 264.6h.7M284.9 267.5h.7M283.7 267.4h.7M279.7 267.5h.7M279.7 265.4h.7M287.1 270.8h.7M298.7 272.3h.7M277.0 275.6h.7M291.0 266.9h.7M276.5 264.2h.7M277.0 276.9h.7M293.0 263.8h.7M279.2 276.1h.7M296.4 273.5h.7M279.7 270.8h.7M280.2 276.3h.7M294.9 267.7h.7M290.2 276.4h.7M279.4 271.1h.7M286.5 274.3h.7M288.6 270.9h.7M276.3 277.1h.7M285.8 265.2h.7M295.4 271.5h.7M278.8 272.2h.7M289.4 261.9h.7M293.2 268.6h.7M290.4 271.3h.7M290.4 276.2h.7M289.9 277.6h.7M278.9 276.0h.7M289.7 263.1h.7M297.6 262.5h.7M281.7 272.1h.7M294.6 264.2h.7M281.1 263.8h.7M297.2 273.8h.7M278.6 274.2h.7M295.6 275.2h.7M288.7 270.4h.7M289.0 262.4h.7M287.4 263.2h.7M294.7 274.9h.7M287.2 266.3h.7M287.9 272.4h.7M285.2 276.2h.7M295.6 267.3h.7M293.7 278.4h.7M293.3 263.8h.7M289.8 268.3h.7M283.2 275.2h.7M292.8 272.6h.7M293.6 275.5h.7M285.8 276.1h.7M285.2 265.8h.7M283.1 269.3h.7M295.9 271.7h.7M296.5 266.2h.7M280.9 265.7h.7M296.5 273.5h.7M294.7 269.0h.7M278.4 270.9h.7M280.5 263.8h.7M286.5 275.4h.7M286.4 276.1h.7M277.8 276.9h.7M275.7 279.1h.7M277.6 273.3h.7M292.3 265.2h.7M275.8 265.3h.7M296.1 271.0h.7M288.6 262.1h.7M278.2 264.3h.7M274.6 272.8h.7M281.8 262.9h.7M280.6 269.8h.7M294.4 268.7h.7M296.6 265.9h.7M295.4 264.8h.7M276.8 266.7h.7M288.7 264.0h.7M281.8 269.7h.7M289.3 262.7h.7M276.2 276.5h.7M283.6 273.6h.7M280.1 264.7h.7M281.4 267.0h.7M292.8 266.1h.7M282.9 270.5h.7M296.9 275.5h.7M282.2 264.0h.7M285.7 263.4h.7M286.7 269.5h.7M279.3 269.7h.7M296.1 265.3h.7M289.8 276.1h.7M297.2 271.8h.7M282.1 267.2h.7M277.1 271.6h.7M293.2 267.5h.7M279.5 263.0h.7M296.8 262.2h.7M289.9 269.3h.7M291.2 269.5h.7M288.7 274.0h.7M296.6 265.5h.7M296.2 272.0h.7M296.6 262.9h.7M285.9 274.2h.7M289.8 272.1h.7M276.7 269.1h.7M288.4 277.0h.7M290.0 267.2h.7M297.1 277.1h.7M281.7 272.9h.7M275.5 275.3h.7M274.7 268.5h.7M288.0 265.1h.7M278.9 264.0h.7M284.9 261.8h.7M281.6 270.3h.7M286.2 274.3h.7M296.7 270.9h.7M277.2 262.0h.7M281.2 278.3h.7M282.5 274.1h.7M289.6 265.7h.7M288.3 274.9h.7M297.3 276.3h.7M289.2 267.5h.7M279.8 273.5h.7M277.1 267.8h.7M290.7 269.2h.7M290.3 263.3h.7M297.3 267.9h.7M297.4 278.0h.7M296.0 269.4h.7M290.5 264.9h.7M280.3 264.4h.7M284.2 271.2h.7M295.6 272.4h.7M286.0 263.4h.7M302.1 277.7h.7M303.7 264.6h.7M302.7 270.1h.7M296.1 266.9h.7M305.1 250.5h.7M290.2 253.6h.7M293.8 268.0h.7M292.2 269.3h.7M306.5 275.9h.7M306.3 263.0h.7M295.2 254.2h.7M293.4 248.3h.7M300.4 270.3h.7M301.4 252.3h.7M304.6 249.9h.7M300.1 253.7h.7M303.3 263.9h.7M294.1 269.2h.7M296.8 264.5h.7M294.5 249.9h.7M300.9 259.8h.7M299.4 268.6h.7M294.6 269.3h.7M301.3 254.8h.7M301.2 253.1h.7M303.8 275.1h.7M302.7 269.7h.7M292.3 246.3h.7M300.9 276.0h.7M298.7 262.2h.7M298.0 263.8h.7M303.2 258.0h.7M298.7 254.0h.7M294.4 270.7h.7M294.4 276.6h.7M301.8 266.8h.7M299.5 275.7h.7M292.0 255.2h.7M293.0 257.5h.7M292.7 277.1h.7M292.2 251.3h.7M294.2 262.8h.7M304.1 270.8h.7M297.6 253.5h.7M306.4 270.0h.7M305.7 275.9h.7M300.1 269.8h.7M302.9 277.1h.7M294.0 252.3h.7M291.7 250.5h.7M303.6 270.2h.7M297.3 273.2h.7M303.9 270.1h.7M303.1 254.2h.7M304.3 256.3h.7M296.5 249.5h.7M296.3 265.4h.7M304.5 274.5h.7M305.4 269.8h.7M303.3 259.2h.7M304.8 257.1h.7M302.1 274.7h.7M306.3 271.6h.7M301.2 273.4h.7M298.5 271.1h.7M303.6 255.7h.7M296.4 246.4h.7M303.2 247.6h.7M302.8 259.4h.7M304.3 265.6h.7M301.8 269.6h.7M297.6 247.5h.7M301.0 259.8h.7M299.2 250.8h.7M294.9 270.1h.7M294.0 264.3h.7M297.8 246.9h.7M300.3 255.0h.7M295.0 250.2h.7M305.7 257.5h.7M302.7 254.6h.7M296.5 262.3h.7M298.6 276.0h.7M303.9 250.3h.7M302.7 273.1h.7M297.9 245.4h.7M301.3 275.1h.7M300.7 249.2h.7M301.3 263.8h.7M295.4 263.1h.7M298.7 256.3h.7M302.0 252.6h.7M300.0 276.2h.7M293.0 268.8h.7M301.7 271.8h.7M307.9 260.5h.7M295.3 268.2h.7M292.2 278.3h.7M296.8 250.7h.7M292.7 255.8h.7M294.4 251.8h.7M295.6 260.8h.7M299.6 276.0h.7M299.2 251.2h.7M296.2 277.7h.7M296.8 257.5h.7M301.1 273.9h.7M302.5 269.1h.7M295.0 256.5h.7M297.6 268.2h.7M303.0 256.9h.7M304.4 265.9h.7M298.3 257.8h.7M296.6 273.0h.7M291.7 262.5h.7M298.0 261.9h.7M304.1 255.0h.7M295.7 252.4h.7M296.2 275.8h.7M299.4 273.1h.7M294.1 251.2h.7M293.1 251.9h.7M292.6 270.5h.7M306.3 275.0h.7M294.5 250.8h.7M303.3 247.2h.7M304.3 275.8h.7M293.2 245.9h.7M301.5 250.0h.7M293.0 276.0h.7M298.4 257.7h.7M295.9 280.8h.7M302.3 250.6h.7M296.9 262.1h.7M302.9 271.3h.7M297.5 265.5h.7M294.2 275.0h.7M304.1 250.5h.7M297.3 271.4h.7M302.9 271.3h.7M297.0 267.8h.7M300.9 275.0h.7M300.1 254.9h.7M305.3 270.2h.7M305.4 269.1h.7M295.1 272.9h.7M298.4 250.2h.7M305.1 269.5h.7M301.5 258.3h.7M307.0 249.4h.7M297.9 261.0h.7M302.1 268.2h.7M291.3 252.1h.7M300.9 276.4h.7M306.6 263.9h.7M303.4 272.3h.7M299.0 248.5h.7M303.7 248.1h.7M303.8 248.9h.7M300.2 272.5h.7M291.9 273.2h.7M305.9 260.7h.7M301.9 274.8h.7M296.2 250.5h.7M293.4 250.4h.7M302.8 253.6h.7M305.3 267.6h.7M305.8 261.0h.7M303.4 275.3h.7M302.4 251.0h.7M313.2 259.1h.7M308.6 251.0h.7M310.3 254.8h.7M309.0 259.7h.7M314.1 253.6h.7M316.4 255.4h.7M314.5 251.6h.7M308.4 250.7h.7M310.1 256.3h.7M312.6 254.3h.7M314.3 255.0h.7M311.4 262.4h.7M310.2 248.8h.7M313.9 258.5h.7M317.1 255.7h.7M314.1 252.7h.7M315.1 246.5h.7M312.7 259.0h.7M308.3 260.6h.7M309.7 260.5h.7M310.6 254.9h.7M315.8 263.5h.7M308.9 246.8h.7M309.2 260.6h.7M314.6 246.8h.7M312.6 260.9h.7M310.5 248.2h.7M312.9 253.4h.7M311.3 254.4h.7M309.4 249.7h.7M314.2 251.4h.7M307.5 251.2h.7M314.5 261.6h.7M308.7 255.8h.7M309.9 251.2h.7M307.9 249.6h.7M313.0 247.5h.7M309.2 259.9h.7M311.6 247.5h.7M314.3 255.7h.7" stroke="#444" stroke-width="0.7" fill="none" opacity="0.45"/>
</g>
<rect x="257.6" y="236.8" width="59.2" height="47.2" fill="none" stroke="#000" stroke-width="1.15"/>
<line x1="307.2" y1="236.8" x2="307.2" y2="284" stroke="#111" stroke-width="1.0"/>
<line x1="257.6" y1="262.1" x2="316.8" y2="262.1" stroke="#111" stroke-width="1.0"/>
<path d="M371.0,231.0 L373.0,229.5 L374.6,226.0 L375.6,221.0 L376.5,214.6 L377.5,207.0 L378.5,199.0 L379.5,194.0 L380.4,189.6 L381.0,183.8 L382.6,183.8 L383.1,187.0 L383.6,188.6 L384.3,186.0 L385.0,183.8 L386.6,183.8 L387.1,195.0 L387.7,205.0 L388.5,207.0 L389.2,201.0 L390.0,198.3 L390.7,202.0 L391.5,208.8 L392.1,213.0 L392.7,216.5 L393.4,213.0 L394.2,210.8 L395.2,216.0 L396.2,221.3 L397.0,219.0 L397.7,217.5 L398.7,221.0 L399.6,223.3 L400.3,222.0 L401.0,221.3 L402.5,224.0 L404.4,226.0 L405.5,222.0 L406.3,212.0 L407.0,195.0 L407.5,183.8 L409.0,183.8 L409.6,198.0 L410.2,208.8 L410.8,218.0 L411.5,224.0 L412.2,231.0Z" fill="#000"/>
<rect x="352.85" y="183.8" width="59.2" height="47.3" fill="none" stroke="#000" stroke-width="1.15"/>
<line x1="401.5" y1="183.8" x2="401.5" y2="231.1" stroke="#111" stroke-width="1.0"/>
<text x="355.25" y="193.8" font-size="8.7" text-anchor="start" >CD4</text>
<clipPath id="c352"><rect x="352.85" y="236.8" width="59.2" height="47.19999999999999"/></clipPath>
<g clip-path="url(#c352)">
<rect x="372.0" y="240.0" width="17.3" height="24.0" fill="#555" opacity="0.92" filter="url(#b4)"/>
<rect x="389" y="241.5" width="7" height="20.5" fill="#555" opacity="0.36" filter="url(#b1)"/>
<rect x="372.8" y="263" width="28.0" height="9.6" fill="#555" opacity="0.92" filter="url(#b4)"/>
<line x1="405.3" y1="264.0" x2="402.9" y2="274.2" stroke="#444" stroke-width="5.4" opacity="0.78" stroke-linecap="round" filter="url(#b3)"/>
<path d="M369.1 241.0h.7M385.0 241.3h.7M382.0 241.4h.7M389.8 248.3h.7M375.1 263.7h.7M376.2 245.6h.7M377.3 241.2h.7M366.7 260.1h.7M369.7 243.2h.7M381.4 245.7h.7M390.1 240.8h.7M381.0 256.8h.7M382.1 256.0h.7M387.5 240.4h.7M381.6 254.5h.7M376.8 261.6h.7M379.2 256.3h.7M387.5 259.4h.7M385.7 255.7h.7M370.3 260.2h.7M389.7 259.9h.7M385.1 252.8h.7M389.1 250.9h.7M379.0 251.9h.7M382.1 251.7h.7M378.4 243.8h.7M380.3 257.6h.7M385.2 261.1h.7M379.5 249.0h.7M385.2 255.3h.7M372.5 246.3h.7M377.0 241.8h.7M374.6 253.5h.7M382.6 239.2h.7M380.2 251.9h.7M386.0 243.7h.7M378.2 257.8h.7M379.0 251.1h.7M386.7 258.5h.7M377.7 262.8h.7M373.6 261.8h.7M386.5 262.2h.7M379.2 249.4h.7M372.8 247.6h.7M382.1 248.3h.7M378.6 257.2h.7M375.5 241.7h.7M368.6 244.4h.7M375.2 242.3h.7M380.9 239.0h.7M375.1 249.8h.7M372.0 249.6h.7M377.5 262.4h.7M374.9 252.2h.7M379.6 258.8h.7M375.2 261.4h.7M369.5 254.4h.7M387.0 246.8h.7M387.4 257.5h.7M379.3 249.8h.7M374.3 240.7h.7M375.7 246.1h.7M380.8 242.3h.7M379.0 259.6h.7M374.5 246.0h.7M381.5 240.2h.7M389.6 255.0h.7M380.2 260.1h.7M373.6 248.7h.7M378.9 256.2h.7M378.0 258.3h.7M379.7 255.5h.7M370.3 258.0h.7M382.4 243.4h.7M371.6 243.5h.7M384.4 243.8h.7M379.6 243.1h.7M379.1 245.7h.7M382.2 257.2h.7M381.8 260.0h.7M381.5 248.4h.7M391.2 239.7h.7M385.4 262.8h.7M384.7 245.0h.7M387.0 260.3h.7M379.6 250.1h.7M388.8 249.1h.7M369.3 240.6h.7M383.3 246.1h.7M377.6 258.7h.7M388.6 246.1h.7M390.2 242.4h.7M372.5 252.9h.7M389.2 251.2h.7M385.5 262.1h.7M375.1 242.5h.7M383.6 244.3h.7M388.9 251.7h.7M369.6 258.1h.7M377.2 257.4h.7M382.2 243.0h.7M387.7 258.0h.7M373.1 257.4h.7M370.8 251.9h.7M376.5 248.9h.7M369.3 258.0h.7M379.7 240.7h.7M385.4 259.9h.7M384.5 253.9h.7M390.2 249.1h.7M380.8 260.4h.7M378.0 253.2h.7M371.6 249.5h.7M380.2 261.1h.7M375.5 252.9h.7M381.3 247.9h.7M385.2 255.8h.7M376.7 254.3h.7M385.1 257.6h.7M372.6 237.9h.7M375.3 241.0h.7M379.8 250.7h.7M377.7 239.6h.7M375.1 241.2h.7M385.2 240.0h.7M369.9 260.2h.7M377.4 262.1h.7M379.0 257.8h.7M386.5 248.6h.7M387.0 253.1h.7M378.3 251.8h.7M389.1 260.6h.7M392.3 254.1h.7M386.9 246.0h.7M384.6 253.5h.7M383.3 249.1h.7M375.2 241.1h.7M383.2 247.9h.7M381.2 255.9h.7M370.8 256.1h.7M377.7 251.8h.7M379.3 246.8h.7M389.2 244.9h.7M389.5 260.3h.7M377.7 240.3h.7M367.4 244.2h.7M378.8 241.4h.7M377.7 261.7h.7M373.0 238.9h.7M379.7 252.4h.7M387.4 242.1h.7M375.6 247.5h.7M371.6 242.2h.7M374.4 243.5h.7M382.0 250.3h.7M374.7 241.8h.7M387.9 250.0h.7M382.5 239.7h.7M382.5 244.4h.7M380.5 246.5h.7M381.6 255.1h.7M371.4 242.9h.7M370.0 256.1h.7M374.9 246.4h.7M393.7 259.5h.7M375.4 242.1h.7M389.5 250.6h.7M371.3 244.3h.7M383.1 257.1h.7M370.8 249.7h.7M383.1 242.9h.7M389.1 248.4h.7M384.2 246.8h.7M380.7 261.7h.7M390.9 246.5h.7M387.6 257.8h.7M391.0 243.1h.7M385.2 247.7h.7M388.0 253.1h.7M373.7 244.9h.7M377.0 256.5h.7M374.6 258.5h.7M375.5 239.9h.7M378.4 259.7h.7M380.6 244.1h.7M375.2 256.0h.7M380.8 245.5h.7M387.6 262.6h.7M371.9 255.7h.7M386.3 257.1h.7M371.4 248.1h.7M372.8 256.2h.7M380.4 257.0h.7M380.1 249.8h.7M370.2 262.8h.7M381.6 255.4h.7M376.7 246.7h.7M369.7 243.2h.7M384.6 241.5h.7M378.2 265.2h.7M379.3 241.3h.7M390.6 250.0h.7M368.1 262.0h.7M379.4 251.3h.7M373.7 249.4h.7M382.1 253.3h.7M391.3 239.7h.7M372.3 259.4h.7M386.8 252.4h.7M383.0 245.0h.7M384.1 248.3h.7M379.3 256.7h.7M386.1 252.9h.7M390.3 239.5h.7M387.8 260.3h.7M387.9 252.1h.7M376.7 255.4h.7M373.4 251.7h.7M385.4 237.8h.7M377.1 261.7h.7M380.9 251.8h.7M384.7 246.3h.7M390.4 240.0h.7M383.6 247.1h.7M373.5 252.0h.7M373.4 256.2h.7M390.0 249.3h.7M376.9 251.5h.7M386.3 245.0h.7M380.6 258.8h.7M374.9 239.3h.7M376.6 246.4h.7M383.8 257.9h.7M381.7 260.2h.7M376.0 243.4h.7M370.7 239.4h.7M386.1 257.4h.7M389.5 262.9h.7M375.1 257.8h.7M381.3 252.6h.7M373.7 242.7h.7M384.0 257.1h.7M385.7 245.9h.7M383.6 242.8h.7M369.8 244.3h.7M370.6 254.4h.7M370.9 261.5h.7M377.7 246.9h.7M374.8 256.0h.7M380.5 247.4h.7M375.0 245.5h.7M375.6 256.3h.7M377.4 263.2h.7M376.5 243.9h.7M375.9 258.1h.7M368.8 251.7h.7M378.9 245.8h.7M370.3 259.8h.7M383.0 246.8h.7M376.0 261.2h.7M386.1 242.3h.7M387.6 246.9h.7M393.3 258.9h.7M377.7 256.3h.7M378.6 258.5h.7M388.1 245.5h.7M375.8 261.0h.7M389.0 240.4h.7M368.8 249.3h.7M389.6 249.3h.7M374.4 251.2h.7M378.4 251.6h.7M380.5 243.4h.7M370.8 258.5h.7M388.8 251.2h.7M380.4 240.1h.7M383.2 260.0h.7M386.9 252.4h.7M383.5 250.8h.7M369.6 243.8h.7M378.9 243.6h.7M385.0 247.5h.7M385.2 247.2h.7M382.6 257.7h.7M380.3 246.3h.7M374.2 249.2h.7M388.5 244.2h.7M373.8 255.3h.7M376.8 257.0h.7M387.9 241.0h.7M389.9 248.3h.7M385.6 258.4h.7M381.2 238.1h.7M386.3 239.7h.7M373.6 252.5h.7M378.5 241.9h.7M379.1 242.3h.7M375.5 247.4h.7M384.3 256.1h.7M371.6 240.2h.7M390.7 260.3h.7M398.9 257.8h.7M395.1 264.7h.7M388.6 245.4h.7M394.0 259.1h.7M395.2 246.5h.7M392.3 243.5h.7M391.0 251.7h.7M390.1 256.3h.7M394.8 252.0h.7M393.9 260.9h.7M398.1 261.9h.7M389.1 251.5h.7M397.3 256.3h.7M390.2 261.8h.7M391.0 246.0h.7M391.2 245.1h.7M399.2 260.7h.7M390.8 252.6h.7M398.6 263.0h.7M395.5 244.1h.7M395.6 259.3h.7M397.5 240.8h.7M401.4 257.8h.7M392.0 256.2h.7M390.6 258.0h.7M394.6 251.7h.7M388.8 259.8h.7M393.3 263.1h.7M401.3 257.6h.7M398.6 250.3h.7M396.0 239.9h.7M399.1 243.5h.7M399.9 242.6h.7M398.0 241.8h.7M393.6 249.6h.7M390.2 261.9h.7M398.2 255.7h.7M393.7 251.8h.7M399.6 251.3h.7M392.0 256.1h.7M396.5 251.0h.7M399.9 247.8h.7M393.4 241.6h.7M396.5 256.3h.7M397.1 255.8h.7M389.6 257.3h.7M389.5 260.2h.7M400.4 243.0h.7M396.9 256.3h.7M392.0 254.0h.7M394.9 256.7h.7M396.2 250.5h.7M392.6 248.6h.7M391.3 244.2h.7M389.0 249.2h.7M394.9 241.0h.7M399.6 250.4h.7M395.1 260.1h.7M391.6 260.0h.7M393.4 258.9h.7M398.9 253.2h.7M399.5 242.1h.7M389.6 258.2h.7M393.6 261.8h.7M397.2 250.5h.7M393.6 242.0h.7M390.6 248.7h.7M394.2 255.9h.7M395.6 246.6h.7M396.7 255.1h.7M395.8 243.1h.7M395.7 255.1h.7M397.9 253.4h.7M392.2 245.4h.7M394.5 244.1h.7M390.7 250.1h.7M396.1 249.8h.7M398.6 260.5h.7M393.3 255.5h.7M393.1 261.0h.7M392.5 251.0h.7M391.8 256.6h.7M397.0 250.0h.7M389.7 259.7h.7M394.6 247.4h.7M390.8 259.7h.7M398.1 241.6h.7M390.0 252.9h.7M396.9 245.0h.7M399.8 240.1h.7M399.7 244.8h.7M394.5 248.6h.7M390.9 264.4h.7M395.6 245.5h.7M390.3 254.1h.7M393.4 262.5h.7M392.7 256.4h.7M395.7 244.6h.7M391.0 252.3h.7M394.7 248.5h.7M389.6 247.1h.7M388.8 241.8h.7M393.4 241.1h.7M396.9 242.5h.7M396.0 244.3h.7M394.3 253.5h.7M393.2 243.1h.7M395.0 260.3h.7M395.2 252.7h.7M390.3 260.6h.7M391.2 243.1h.7M397.4 258.4h.7M393.8 257.4h.7M392.7 259.7h.7M394.5 246.5h.7M394.6 245.8h.7M394.5 258.7h.7M394.4 261.0h.7M397.6 244.9h.7M401.9 252.7h.7M393.8 252.5h.7M390.5 242.9h.7M394.9 254.4h.7M399.4 245.5h.7M398.5 258.8h.7M388.0 256.8h.7M392.3 262.2h.7M397.1 256.0h.7M394.7 259.3h.7M394.9 258.9h.7M395.0 260.6h.7M394.3 243.6h.7M392.2 246.6h.7M399.7 242.6h.7M388.8 245.6h.7M396.4 260.4h.7M394.1 254.2h.7M396.0 256.3h.7M398.7 248.2h.7M387.0 260.7h.7M399.7 241.3h.7M393.5 247.4h.7M394.8 246.3h.7M396.3 249.2h.7M394.0 251.0h.7M396.8 262.2h.7M399.0 242.9h.7M391.7 239.4h.7M388.3 254.6h.7M390.9 260.1h.7M392.3 262.9h.7M395.7 252.1h.7M400.1 242.1h.7M394.7 262.0h.7M394.9 246.5h.7M394.1 262.6h.7M400.1 258.3h.7M386.5 247.2h.7M392.2 255.9h.7M398.6 243.0h.7M396.2 242.3h.7M400.4 257.1h.7M401.1 245.7h.7M396.8 255.2h.7M396.9 260.3h.7M391.4 252.2h.7M397.1 252.1h.7M389.6 250.6h.7M390.8 244.0h.7M392.7 258.2h.7M393.1 253.8h.7M394.4 245.6h.7M396.4 241.6h.7M397.4 250.6h.7M399.3 251.8h.7M389.1 248.4h.7M398.0 254.9h.7M394.5 256.9h.7M395.9 254.5h.7M395.9 256.0h.7M395.0 251.0h.7M398.4 250.6h.7M392.9 258.5h.7M389.9 245.1h.7M397.6 260.6h.7M389.1 244.1h.7M390.2 254.8h.7M399.2 241.6h.7M389.1 252.2h.7M396.7 251.6h.7M398.4 253.7h.7M391.9 245.6h.7M393.7 240.0h.7M390.5 241.2h.7M396.3 250.5h.7M396.7 261.0h.7M396.9 240.2h.7M397.3 245.8h.7M393.3 239.8h.7M381.0 276.0h.7M399.8 267.8h.7M373.3 271.1h.7M396.3 263.4h.7M398.5 264.1h.7M399.1 262.7h.7M400.5 274.2h.7M391.4 274.8h.7M403.7 266.1h.7M378.6 265.6h.7M387.5 271.7h.7M391.0 266.5h.7M383.6 272.7h.7M381.4 268.6h.7M383.0 263.2h.7M380.6 272.3h.7M393.5 271.6h.7M396.6 269.4h.7M382.9 274.7h.7M391.6 265.4h.7M387.8 269.9h.7M387.3 270.1h.7M389.6 261.0h.7M402.5 263.0h.7M377.0 261.8h.7M387.3 267.4h.7M377.8 265.4h.7M379.6 267.1h.7M371.7 267.4h.7M370.4 270.8h.7M377.9 261.6h.7M385.9 266.3h.7M389.6 269.3h.7M382.7 273.8h.7M399.0 272.5h.7M375.2 274.6h.7M397.7 274.2h.7M376.8 264.5h.7M384.5 265.7h.7M374.2 272.5h.7M388.6 263.5h.7M388.1 264.8h.7M370.9 273.0h.7M373.2 270.9h.7M372.3 271.2h.7M372.8 269.4h.7M385.8 269.8h.7M381.6 275.3h.7M393.4 270.5h.7M403.8 264.7h.7M387.9 273.2h.7M376.9 266.7h.7M392.7 272.7h.7M396.2 270.6h.7M399.9 262.7h.7M384.4 263.3h.7M386.7 268.5h.7M379.9 267.4h.7M376.1 275.7h.7M378.6 273.2h.7M386.3 263.7h.7M375.9 268.2h.7M400.3 276.0h.7M389.2 265.5h.7M372.7 269.8h.7M372.2 269.9h.7M380.4 265.3h.7M399.7 269.7h.7M403.0 273.6h.7M370.5 273.0h.7M398.2 268.6h.7M394.2 269.1h.7M379.4 263.7h.7M376.6 273.1h.7M373.5 263.7h.7M380.5 268.3h.7M392.2 268.2h.7M372.2 264.9h.7M372.8 268.3h.7M386.8 270.9h.7M381.7 272.7h.7M403.7 268.8h.7M378.4 261.6h.7M389.4 267.8h.7M371.9 273.4h.7M375.4 265.3h.7M392.0 269.0h.7M401.0 267.4h.7M372.0 267.7h.7M400.8 263.9h.7M386.5 270.0h.7M383.6 273.5h.7M374.3 265.9h.7M394.4 273.5h.7M374.7 266.8h.7M402.3 264.7h.7M372.9 273.0h.7M373.8 265.9h.7M379.1 272.7h.7M397.9 261.5h.7M388.3 268.0h.7M374.1 264.7h.7M373.5 271.6h.7M383.4 265.0h.7M389.4 267.3h.7M390.9 264.4h.7M388.6 273.1h.7M369.5 270.3h.7M395.3 266.4h.7M376.8 265.0h.7M394.0 265.6h.7M400.1 264.0h.7M372.2 273.8h.7M391.7 272.6h.7M373.8 273.0h.7M390.0 266.1h.7M370.0 273.8h.7M389.6 268.6h.7M376.3 269.4h.7M369.5 271.3h.7M383.9 273.1h.7M374.9 270.7h.7M391.2 268.3h.7M397.3 263.5h.7M399.1 271.7h.7M401.8 272.1h.7M370.6 267.2h.7M376.1 260.8h.7M369.1 269.7h.7M400.3 265.4h.7M381.8 263.6h.7M390.0 270.9h.7M373.6 274.1h.7M388.0 265.3h.7M399.8 268.3h.7M379.7 267.0h.7M377.3 266.0h.7M373.3 263.1h.7M380.0 272.7h.7M381.4 274.8h.7M397.6 271.2h.7M385.1 263.4h.7M393.7 274.6h.7M386.7 268.8h.7M382.4 266.8h.7M374.1 271.1h.7M375.9 272.6h.7M389.8 264.6h.7M395.4 273.3h.7M377.4 263.6h.7M398.3 268.5h.7M400.1 272.0h.7M386.6 265.1h.7M390.5 276.8h.7M401.8 264.8h.7M383.2 276.0h.7M394.5 275.7h.7M373.2 261.2h.7M400.6 267.1h.7M387.5 274.2h.7M383.0 271.2h.7M392.1 274.8h.7M378.6 265.2h.7M392.5 272.9h.7M375.4 270.7h.7M398.0 269.1h.7M397.8 269.9h.7M375.3 274.9h.7M394.7 266.2h.7M371.8 275.7h.7M379.9 270.9h.7M389.5 275.9h.7M377.7 263.8h.7M372.5 268.0h.7M372.6 274.1h.7M371.1 265.1h.7M384.0 266.7h.7M382.2 275.2h.7M377.4 267.9h.7M395.7 267.5h.7M400.2 267.6h.7M387.2 269.4h.7M393.0 271.0h.7M392.9 262.2h.7M374.2 265.1h.7M390.3 267.3h.7M378.4 272.1h.7M389.1 273.5h.7M382.7 267.2h.7M371.0 269.2h.7M393.0 275.1h.7M381.2 266.5h.7M378.3 270.3h.7M404.1 274.7h.7M398.3 275.8h.7M397.5 267.1h.7M385.0 266.9h.7M375.2 273.2h.7M378.8 273.2h.7M375.9 265.4h.7M371.1 273.6h.7M377.1 274.1h.7M377.4 262.9h.7M392.7 268.6h.7M399.8 268.8h.7M389.3 270.7h.7M381.3 275.8h.7M396.5 270.8h.7M378.7 264.6h.7M388.9 264.3h.7M388.5 269.0h.7M390.5 269.1h.7M400.7 269.2h.7M376.7 270.4h.7M377.0 271.0h.7M389.6 263.5h.7M390.3 275.0h.7M394.4 274.2h.7M403.1 273.2h.7M393.7 266.7h.7M383.6 268.0h.7M399.0 268.5h.7M373.5 274.0h.7M378.9 272.9h.7M382.2 274.5h.7M385.3 267.5h.7M394.3 276.1h.7M393.9 263.1h.7M370.5 273.6h.7M376.0 266.7h.7M398.8 270.1h.7M392.9 274.4h.7M382.1 269.1h.7M392.1 270.1h.7M371.4 269.4h.7M401.8 265.3h.7M376.0 261.5h.7M378.2 266.2h.7M399.0 270.6h.7M371.9 263.0h.7M387.3 272.3h.7M399.4 264.2h.7M393.4 267.5h.7M376.8 270.3h.7M394.7 269.8h.7M380.8 271.6h.7M376.0 265.8h.7M399.3 275.2h.7M372.1 262.3h.7M396.3 263.7h.7M373.7 269.0h.7M381.3 274.2h.7M399.2 276.7h.7M387.9 266.4h.7M377.9 268.0h.7M393.1 262.3h.7M396.1 265.3h.7M391.2 271.2h.7M373.9 264.0h.7M388.9 266.1h.7M383.6 263.3h.7M386.7 267.1h.7M377.1 269.4h.7M399.0 268.9h.7M372.0 262.9h.7M385.2 266.1h.7M399.7 273.2h.7M398.5 275.7h.7M401.3 266.4h.7M395.9 273.5h.7M399.8 269.9h.7M393.6 268.0h.7M387.0 274.7h.7M397.3 267.6h.7M388.8 268.1h.7M402.4 264.3h.7M378.6 272.9h.7M397.0 274.4h.7M379.2 270.5h.7M392.6 265.8h.7M373.9 274.7h.7M393.1 268.1h.7M389.6 274.0h.7M388.7 262.9h.7M380.6 262.5h.7M377.7 262.7h.7M386.7 265.5h.7M395.0 268.7h.7M401.8 274.9h.7M379.6 267.6h.7M378.9 269.8h.7M378.1 269.0h.7M399.4 273.9h.7M395.4 268.3h.7M377.9 267.7h.7M385.4 264.7h.7M379.3 274.4h.7M401.2 275.4h.7M402.5 265.8h.7M372.2 263.5h.7M376.4 264.4h.7M373.8 264.1h.7M374.2 260.4h.7M397.6 264.9h.7M397.4 275.5h.7M379.2 261.7h.7M372.7 270.8h.7M392.4 266.2h.7M397.4 269.5h.7M373.7 268.0h.7M387.3 269.6h.7M378.3 262.0h.7M388.6 263.7h.7M385.3 267.7h.7M385.8 267.1h.7M395.6 265.1h.7M379.4 267.1h.7M402.8 270.7h.7M401.5 276.7h.7M384.1 265.1h.7M375.2 265.8h.7M384.9 272.5h.7M395.9 263.0h.7M376.2 269.2h.7M373.6 264.5h.7M392.5 274.0h.7M395.7 265.1h.7M395.0 273.4h.7M389.1 268.2h.7M403.4 264.3h.7" stroke="#444" stroke-width="0.7" fill="none" opacity="0.45"/>
</g>
<rect x="352.85" y="236.8" width="59.2" height="47.2" fill="none" stroke="#000" stroke-width="1.15"/>
<line x1="401.5" y1="236.8" x2="401.5" y2="284" stroke="#111" stroke-width="1.0"/>
<line x1="352.85" y1="262.1" x2="412.05" y2="262.1" stroke="#111" stroke-width="1.0"/>
<path d="M435.0,231.0 L437.5,229.5 L439.4,226.0 L440.4,222.0 L441.3,216.5 L442.3,210.0 L443.3,203.0 L444.3,197.5 L445.2,195.4 L446.1,197.0 L447.0,201.0 L448.2,205.0 L449.6,208.8 L450.3,213.0 L451.0,216.5 L452.0,219.5 L452.9,221.3 L453.7,219.5 L454.4,218.5 L455.3,222.0 L456.3,225.2 L457.3,223.5 L458.3,222.7 L459.5,225.0 L460.6,227.0 L461.5,226.2 L462.5,225.8 L464.0,227.5 L465.4,228.5 L467.3,227.5 L469.5,228.8 L472.0,229.0 L473.5,227.0 L474.8,223.0 L476.0,220.0 L477.0,223.0 L477.9,228.0 L479.0,230.5 L479.6,231.0Z" fill="#000"/>
<rect x="420.7" y="183.8" width="59.2" height="47.3" fill="none" stroke="#000" stroke-width="1.15"/>
<line x1="470.2" y1="183.8" x2="470.2" y2="231.1" stroke="#111" stroke-width="1.0"/>
<text x="423.09999999999997" y="193.8" font-size="8.7" text-anchor="start" >CD8</text>
<clipPath id="c420"><rect x="420.7" y="236.8" width="59.2" height="47.19999999999999"/></clipPath>
<g clip-path="url(#c420)">
<rect x="436.6" y="238.4" width="16.0" height="23.2" fill="#555" opacity="0.92" filter="url(#b4)"/>
<rect x="452" y="240.5" width="10" height="21.0" fill="#555" opacity="0.48" filter="url(#b1)"/>
<rect x="439" y="263.5" width="13" height="7.5" fill="#555" opacity="0.6" filter="url(#b1)"/>
<line x1="473.9" y1="262.8" x2="472.5" y2="272.8" stroke="#444" stroke-width="3.3" opacity="0.82" stroke-linecap="round" filter="url(#b3)"/>
<path d="M452.4 254.0h.7M437.4 251.5h.7M435.8 260.7h.7M448.2 244.7h.7M434.9 241.7h.7M446.7 245.5h.7M436.5 251.2h.7M448.8 243.9h.7M449.9 254.8h.7M433.8 256.5h.7M447.3 238.4h.7M446.1 258.0h.7M450.0 254.6h.7M450.7 255.4h.7M444.9 248.2h.7M439.6 246.0h.7M449.3 257.5h.7M434.2 256.6h.7M443.0 255.1h.7M446.0 252.1h.7M443.2 255.1h.7M444.8 261.3h.7M444.3 239.8h.7M447.1 242.5h.7M443.5 258.3h.7M435.7 252.8h.7M445.4 254.5h.7M451.9 257.7h.7M438.6 244.6h.7M438.5 248.7h.7M449.0 260.3h.7M442.1 248.0h.7M436.0 242.2h.7M438.1 238.5h.7M435.5 239.2h.7M439.5 242.2h.7M438.9 261.7h.7M450.0 247.5h.7M452.1 242.7h.7M441.0 251.4h.7M432.4 249.1h.7M443.7 253.7h.7M441.0 252.1h.7M434.6 247.1h.7M450.7 240.5h.7M453.8 257.7h.7M449.5 239.5h.7M447.5 240.1h.7M433.8 254.3h.7M434.3 242.9h.7M451.5 248.2h.7M441.3 239.9h.7M440.6 248.8h.7M448.1 258.6h.7M446.6 251.8h.7M440.1 253.0h.7M439.0 262.2h.7M450.8 263.1h.7M443.2 256.7h.7M443.4 250.5h.7M446.5 248.8h.7M436.7 249.9h.7M436.1 252.7h.7M438.7 261.7h.7M433.9 248.3h.7M443.2 250.6h.7M441.6 258.3h.7M449.8 248.8h.7M450.7 238.8h.7M440.2 261.1h.7M441.1 256.1h.7M445.2 241.0h.7M433.3 241.9h.7M439.4 259.3h.7M434.4 259.3h.7M434.7 259.3h.7M450.7 243.6h.7M436.4 253.6h.7M436.4 260.6h.7M445.1 262.0h.7M437.9 253.8h.7M443.1 250.5h.7M438.4 236.9h.7M444.6 249.8h.7M448.3 249.5h.7M447.6 245.8h.7M436.4 260.0h.7M450.1 250.3h.7M447.4 239.4h.7M447.5 251.6h.7M438.8 255.1h.7M448.8 247.8h.7M440.8 260.7h.7M439.4 237.4h.7M447.2 260.9h.7M446.7 259.9h.7M437.8 244.0h.7M439.6 244.8h.7M433.7 253.4h.7M441.7 240.9h.7M432.9 243.0h.7M444.3 261.1h.7M452.5 250.9h.7M445.2 259.3h.7M447.5 257.5h.7M442.1 260.3h.7M447.1 257.6h.7M433.5 254.9h.7M438.8 246.0h.7M448.0 250.0h.7M443.7 244.1h.7M441.0 261.0h.7M443.4 237.5h.7M440.8 261.3h.7M444.9 244.0h.7M439.9 249.1h.7M437.3 249.8h.7M447.9 253.4h.7M443.4 243.9h.7M450.4 239.7h.7M448.3 250.3h.7M441.3 254.7h.7M434.6 247.3h.7M438.5 260.2h.7M453.3 242.7h.7M442.0 260.9h.7M436.0 245.5h.7M435.4 255.9h.7M453.7 253.3h.7M434.4 257.8h.7M438.1 256.8h.7M450.1 239.2h.7M448.3 237.1h.7M449.7 246.8h.7M441.5 244.1h.7M439.6 248.6h.7M439.3 246.2h.7M449.1 257.9h.7M452.5 256.1h.7M453.0 246.9h.7M432.9 237.8h.7M451.8 240.8h.7M441.2 252.5h.7M445.3 257.4h.7M440.9 249.1h.7M440.9 255.8h.7M440.6 253.1h.7M443.7 255.1h.7M440.4 253.5h.7M431.8 238.8h.7M446.9 253.7h.7M447.7 239.7h.7M451.7 242.0h.7M442.3 249.7h.7M444.5 261.2h.7M452.2 248.8h.7M443.4 244.5h.7M445.3 251.2h.7M447.3 238.1h.7M449.2 257.7h.7M448.0 249.5h.7M448.4 247.2h.7M440.2 259.3h.7M437.4 251.3h.7M445.5 260.8h.7M440.3 244.0h.7M449.3 252.4h.7M438.7 251.8h.7M436.4 244.0h.7M446.7 257.4h.7M443.6 251.7h.7M444.4 258.5h.7M435.9 247.5h.7M452.6 237.3h.7M444.4 258.7h.7M437.1 243.2h.7M435.5 251.2h.7M452.4 247.8h.7M445.0 242.9h.7M433.0 240.4h.7M434.7 259.9h.7M447.8 240.3h.7M434.1 261.6h.7M447.2 249.2h.7M445.2 258.1h.7M438.1 262.1h.7M439.3 243.5h.7M440.9 248.8h.7M437.4 239.9h.7M444.0 255.7h.7M438.3 246.8h.7M452.6 246.1h.7M443.1 262.0h.7M435.1 258.7h.7M439.3 254.6h.7M444.4 254.2h.7M439.0 240.7h.7M451.5 245.4h.7M433.4 240.2h.7M435.3 255.9h.7M444.4 245.5h.7M443.0 257.0h.7M447.8 249.4h.7M444.1 257.4h.7M443.9 253.2h.7M448.0 258.4h.7M434.7 253.8h.7M438.9 242.3h.7M442.9 238.6h.7M444.0 239.8h.7M436.2 249.5h.7M436.9 243.5h.7M435.9 253.5h.7M445.7 241.8h.7M450.0 257.1h.7M439.8 247.0h.7M439.7 241.5h.7M451.2 262.3h.7M446.6 247.0h.7M440.8 261.0h.7M441.8 240.5h.7M448.1 257.5h.7M443.8 260.5h.7M450.3 256.7h.7M448.4 256.5h.7M438.1 251.3h.7M436.8 261.0h.7M447.2 248.5h.7M447.3 244.0h.7M433.4 252.1h.7M450.0 256.3h.7M438.2 239.7h.7M436.5 259.8h.7M437.8 260.7h.7M441.4 250.6h.7M453.6 249.9h.7M435.2 242.4h.7M445.5 258.6h.7M450.0 249.7h.7M454.3 239.2h.7M451.8 254.0h.7M437.8 240.3h.7M453.2 261.6h.7M446.8 260.9h.7M448.3 255.4h.7M441.7 242.4h.7M444.7 244.1h.7M453.2 254.4h.7M436.6 251.8h.7M435.1 253.1h.7M437.3 241.2h.7M441.7 238.0h.7M436.8 244.0h.7M443.1 258.0h.7M448.8 240.7h.7M437.9 249.9h.7M451.8 239.0h.7M436.2 259.1h.7M439.1 249.0h.7M444.0 245.7h.7M440.8 252.8h.7M434.6 242.8h.7M437.5 236.2h.7M445.6 258.5h.7M434.9 255.6h.7M446.9 256.7h.7M445.3 260.1h.7M437.8 242.5h.7M449.9 254.5h.7M454.2 245.6h.7M440.7 247.0h.7M451.4 242.8h.7M437.1 252.0h.7M443.9 252.3h.7M448.0 239.0h.7M437.4 251.8h.7M439.9 255.9h.7M453.6 261.5h.7M448.3 251.5h.7M452.3 255.4h.7M444.2 248.3h.7M445.7 259.6h.7M438.7 242.9h.7M448.7 238.7h.7M441.8 238.1h.7M441.0 242.9h.7M439.9 245.7h.7M439.8 248.3h.7M447.8 246.4h.7M445.0 252.5h.7M442.0 241.6h.7M452.6 251.9h.7M439.9 244.0h.7M436.0 254.5h.7M447.4 255.2h.7M445.4 245.9h.7M448.3 256.2h.7M435.3 253.9h.7M440.0 256.2h.7M448.7 239.0h.7M465.7 252.8h.7M460.5 257.0h.7M461.6 250.7h.7M470.0 252.0h.7M453.4 252.6h.7M455.5 247.3h.7M454.0 240.5h.7M469.3 246.8h.7M455.4 242.4h.7M461.0 247.4h.7M461.3 249.6h.7M451.7 251.4h.7M458.4 254.3h.7M464.7 260.0h.7M455.3 252.2h.7M457.0 257.7h.7M468.2 249.3h.7M465.4 245.2h.7M460.9 250.7h.7M467.1 252.0h.7M467.0 250.8h.7M464.1 256.0h.7M462.3 253.6h.7M459.7 255.2h.7M465.9 260.5h.7M466.7 250.2h.7M454.7 252.0h.7M460.0 248.8h.7M455.3 253.0h.7M466.7 240.6h.7M464.8 240.9h.7M456.5 241.1h.7M455.8 245.2h.7M460.6 239.7h.7M457.9 245.3h.7M452.9 255.9h.7M465.9 253.0h.7M465.3 248.5h.7M464.8 250.9h.7M460.8 260.3h.7M464.4 257.3h.7M452.3 252.0h.7M459.6 243.9h.7M460.2 242.3h.7M468.5 241.9h.7M462.8 256.9h.7M460.3 250.1h.7M465.8 249.4h.7M467.5 253.7h.7M455.3 256.6h.7M464.3 240.5h.7M463.7 253.2h.7M468.6 257.2h.7M460.5 256.2h.7M462.3 249.3h.7M467.1 261.8h.7M468.0 247.9h.7M453.1 248.8h.7M465.4 247.7h.7M457.3 255.6h.7M455.4 246.2h.7M468.8 242.7h.7M450.5 253.0h.7M470.3 245.7h.7M460.0 257.3h.7M458.0 261.4h.7M464.0 245.9h.7M464.6 260.3h.7M453.6 247.9h.7M460.5 253.4h.7M460.0 255.1h.7M461.3 242.3h.7M458.1 257.5h.7M458.9 241.7h.7M454.1 259.2h.7M463.2 248.7h.7M455.8 251.1h.7M466.4 251.5h.7M462.9 249.5h.7M469.6 252.5h.7M451.0 244.4h.7M465.1 248.1h.7M462.2 258.6h.7M460.9 253.4h.7M464.8 245.6h.7M461.0 257.4h.7M457.6 253.4h.7M463.2 244.7h.7M465.7 254.3h.7M455.4 247.0h.7M463.9 243.3h.7M469.6 260.2h.7M468.4 246.1h.7M460.9 257.1h.7M451.3 255.2h.7M455.5 240.5h.7M466.0 261.7h.7M457.6 249.1h.7M468.0 258.8h.7M456.6 254.8h.7M459.9 246.2h.7M461.7 257.8h.7M455.8 248.1h.7M459.9 256.2h.7M457.2 245.6h.7M454.9 242.3h.7M467.4 244.2h.7M461.6 260.5h.7M464.6 248.8h.7M453.4 248.6h.7M468.8 241.0h.7M459.8 244.7h.7M450.7 244.5h.7M455.9 257.2h.7M466.2 253.1h.7M458.6 253.6h.7M456.7 262.4h.7M457.2 250.1h.7M461.3 253.6h.7M453.7 244.1h.7M459.8 259.1h.7M462.4 259.1h.7M465.8 251.3h.7M460.2 257.1h.7M466.7 260.4h.7M459.7 252.3h.7M465.2 256.5h.7M456.3 241.9h.7M461.0 260.7h.7M454.0 256.4h.7M463.0 240.7h.7M460.4 249.8h.7M466.6 254.4h.7M457.7 246.3h.7M454.7 246.6h.7M453.0 251.8h.7M463.5 258.4h.7M467.5 250.0h.7M465.0 244.6h.7M469.0 262.4h.7M465.3 261.0h.7M467.0 262.5h.7M453.9 254.1h.7M466.3 244.3h.7M457.4 259.6h.7M464.7 239.6h.7M455.6 259.2h.7M458.1 247.8h.7M468.3 244.9h.7M454.2 245.1h.7M461.3 260.4h.7M458.4 252.4h.7M452.2 250.5h.7M461.6 258.7h.7M469.7 259.5h.7M457.0 257.4h.7M455.1 253.4h.7M468.8 248.8h.7M468.2 254.2h.7M465.4 262.8h.7M467.4 254.2h.7M463.6 247.2h.7M463.6 242.9h.7M461.9 247.5h.7M455.3 253.3h.7M460.0 259.1h.7M459.7 244.1h.7M456.5 241.4h.7M458.5 256.8h.7M458.7 257.1h.7M464.7 246.9h.7M464.1 241.3h.7M469.5 261.5h.7M451.7 255.9h.7M466.4 241.7h.7M456.7 254.0h.7M468.0 260.5h.7M461.6 241.5h.7M455.4 251.1h.7M467.0 249.3h.7M462.2 248.1h.7M456.7 260.0h.7M459.3 250.0h.7M459.5 261.2h.7M453.7 258.4h.7M461.1 250.0h.7M458.3 251.2h.7M463.3 256.9h.7M455.3 250.9h.7M462.0 254.4h.7M454.2 261.2h.7M463.1 243.3h.7M463.1 240.8h.7M456.1 247.2h.7M466.9 244.8h.7M467.0 246.0h.7M458.4 260.8h.7M461.0 253.1h.7M467.4 257.5h.7M464.4 253.4h.7M459.2 259.9h.7M462.9 260.8h.7M453.8 259.8h.7M466.8 251.1h.7M455.6 264.0h.7M470.2 254.2h.7M464.8 259.0h.7M455.6 245.0h.7M456.6 260.9h.7M469.6 255.6h.7M462.2 243.4h.7M455.4 255.7h.7M456.3 259.8h.7M468.0 250.3h.7M466.5 250.1h.7M463.0 256.7h.7M461.7 252.3h.7M459.7 258.3h.7M459.7 253.5h.7M466.1 261.1h.7M460.1 240.4h.7M463.8 248.6h.7M458.1 256.4h.7M457.0 257.3h.7M462.5 260.7h.7M462.1 253.1h.7M456.0 260.3h.7M467.8 247.7h.7M462.1 254.7h.7M458.5 257.9h.7M458.9 251.4h.7M466.9 258.9h.7M462.4 254.7h.7M463.5 247.7h.7M466.6 253.9h.7M455.6 252.5h.7M466.0 246.5h.7M464.6 248.0h.7M456.1 248.7h.7M452.7 263.0h.7M455.7 257.9h.7M459.1 243.9h.7M459.6 250.3h.7M454.0 254.4h.7M464.3 242.4h.7M453.9 241.7h.7M469.7 251.6h.7M462.8 257.2h.7M458.7 243.2h.7M459.8 252.4h.7M462.4 254.9h.7M460.1 240.1h.7M461.2 248.0h.7M457.9 261.4h.7M455.4 242.5h.7M460.6 259.8h.7M467.3 258.8h.7M453.5 255.2h.7M455.1 252.8h.7M461.9 244.7h.7M462.9 247.9h.7M455.5 245.1h.7M465.6 259.2h.7M465.3 263.2h.7M465.1 256.3h.7M451.1 253.4h.7M468.7 260.0h.7M457.9 257.9h.7M452.1 241.6h.7M463.0 244.8h.7M464.9 246.9h.7M467.9 251.0h.7M467.5 254.0h.7M453.6 254.7h.7M456.8 244.8h.7M453.4 246.7h.7M461.2 250.8h.7M457.1 253.8h.7M452.8 252.1h.7M454.2 254.7h.7M467.2 247.8h.7M460.7 252.2h.7M470.6 247.9h.7M462.0 252.9h.7M457.2 242.2h.7M468.6 255.6h.7M453.4 261.3h.7M457.9 241.2h.7M460.6 254.6h.7M464.5 252.3h.7M452.8 252.2h.7M458.2 256.3h.7M463.1 258.8h.7M452.4 254.0h.7M459.5 245.7h.7M467.3 247.3h.7M465.7 246.5h.7M468.3 260.5h.7M454.0 260.5h.7M457.5 244.2h.7M463.1 259.5h.7M464.3 256.5h.7M458.2 262.7h.7M453.6 263.4h.7M470.7 243.2h.7M456.5 263.3h.7M466.6 257.2h.7M454.1 261.5h.7M455.5 250.8h.7M452.9 252.7h.7M465.9 242.5h.7M462.3 246.2h.7M460.3 247.6h.7M465.5 239.3h.7M464.2 249.1h.7M455.6 260.1h.7M464.2 263.4h.7M451.6 244.4h.7M456.3 259.2h.7M459.6 252.3h.7M457.3 248.0h.7M461.9 259.6h.7M463.3 243.0h.7M456.0 244.1h.7M458.7 244.9h.7M464.0 252.0h.7M458.5 240.2h.7M464.9 245.1h.7M459.0 245.8h.7M450.2 253.2h.7M457.5 270.9h.7M467.9 261.6h.7M445.6 270.1h.7M461.9 269.8h.7M440.0 266.4h.7M457.2 261.5h.7M465.3 266.4h.7M459.8 267.8h.7M440.8 271.6h.7M450.2 272.4h.7M462.3 264.8h.7M461.3 268.8h.7M443.1 272.0h.7M437.1 263.0h.7M447.2 266.5h.7M467.6 268.8h.7M453.6 268.5h.7M469.8 272.4h.7M452.3 265.6h.7M456.9 271.2h.7M459.5 268.9h.7M467.4 270.1h.7M457.0 267.5h.7M469.1 265.2h.7M445.6 269.8h.7M441.9 265.9h.7M455.8 264.6h.7M459.0 268.4h.7M461.9 269.4h.7M466.7 269.8h.7M450.5 271.5h.7M450.4 263.4h.7M445.9 270.4h.7M447.1 270.7h.7M460.0 262.4h.7M465.4 263.4h.7M440.1 268.4h.7M446.1 270.6h.7M462.3 272.2h.7M463.5 271.7h.7M461.6 270.3h.7M444.7 268.1h.7M438.9 264.1h.7M445.3 264.1h.7M460.4 272.6h.7M469.0 271.7h.7M449.2 268.5h.7M445.5 265.8h.7M461.0 263.4h.7M444.5 268.3h.7M463.5 263.3h.7M448.0 270.2h.7M442.5 265.0h.7M458.4 263.4h.7M459.2 270.0h.7M459.2 266.5h.7M455.0 263.6h.7M440.2 268.8h.7M463.7 273.5h.7M442.9 262.3h.7M444.6 262.4h.7M465.0 261.2h.7M439.0 265.0h.7M458.8 263.5h.7M440.5 260.1h.7M443.6 267.2h.7M453.5 267.2h.7M464.5 272.0h.7M454.0 272.7h.7M468.9 268.2h.7M463.2 266.7h.7M465.6 264.4h.7M448.2 269.8h.7M461.5 264.9h.7M464.8 270.7h.7M466.8 266.6h.7M463.2 267.6h.7M447.2 267.7h.7M457.3 271.1h.7M461.8 262.5h.7M454.7 266.8h.7M457.9 271.6h.7M438.1 270.8h.7M461.8 263.1h.7M446.3 263.8h.7M466.9 262.1h.7M466.8 266.1h.7M447.2 266.2h.7M455.6 262.7h.7M452.8 266.8h.7M444.3 270.2h.7M458.5 263.2h.7M465.3 264.6h.7M450.9 270.7h.7M440.6 264.1h.7M445.7 267.4h.7M466.5 268.6h.7M462.1 272.4h.7M457.6 268.5h.7M467.9 263.0h.7M448.9 270.4h.7M448.7 265.6h.7M443.3 267.4h.7M449.4 265.8h.7M455.2 272.4h.7M460.8 266.7h.7M439.8 271.8h.7M449.6 269.3h.7M453.6 269.3h.7M460.7 270.9h.7M446.8 271.4h.7M452.9 264.2h.7M439.2 267.3h.7M439.4 269.8h.7M465.7 268.9h.7M450.6 270.9h.7M458.5 269.7h.7M467.3 271.6h.7M445.0 273.8h.7M444.1 264.9h.7M443.9 269.7h.7M445.0 265.0h.7M439.2 269.5h.7M436.4 269.1h.7M446.2 266.2h.7M439.6 264.8h.7M449.5 265.1h.7M453.3 268.9h.7M461.6 262.7h.7M458.9 263.6h.7M444.4 270.5h.7M464.5 272.5h.7M442.6 265.6h.7M453.6 271.6h.7M460.2 262.6h.7M464.4 271.9h.7M446.1 263.8h.7M449.3 265.8h.7M454.0 270.1h.7M449.3 273.6h.7M457.7 267.1h.7M464.8 270.0h.7M450.9 265.3h.7M455.1 270.7h.7M448.5 270.1h.7M444.2 271.0h.7M460.9 263.6h.7M456.6 261.9h.7M455.2 264.2h.7M448.9 268.2h.7M459.4 264.8h.7M460.8 261.8h.7M446.5 266.7h.7M462.0 262.9h.7M450.2 269.0h.7M454.0 272.6h.7M456.8 264.7h.7M463.8 272.7h.7M458.2 270.7h.7M441.8 270.2h.7M445.5 264.9h.7M449.1 267.5h.7M467.8 262.1h.7M459.2 266.3h.7M467.5 273.1h.7M469.0 270.0h.7M440.1 265.7h.7M446.1 270.4h.7M452.3 263.2h.7M455.4 271.4h.7M438.3 264.4h.7M439.7 270.6h.7M460.7 269.7h.7M463.1 273.2h.7M463.6 269.5h.7M442.3 263.3h.7M450.6 261.5h.7M450.3 264.4h.7M449.9 269.0h.7M457.5 274.3h.7M441.0 263.4h.7M458.9 263.6h.7M454.0 274.1h.7M437.5 264.2h.7M457.7 267.7h.7M462.0 263.4h.7M444.7 271.0h.7M442.4 262.9h.7M440.5 270.1h.7M466.0 267.1h.7M449.7 264.9h.7M461.2 265.3h.7M451.0 273.7h.7M455.0 268.2h.7M445.7 272.5h.7M465.7 265.6h.7M469.0 263.1h.7M452.0 263.7h.7M452.4 262.7h.7M447.5 269.0h.7M442.5 261.8h.7M451.6 267.8h.7M463.8 270.3h.7M458.7 262.7h.7M465.5 271.8h.7M442.6 262.4h.7M468.4 264.5h.7M464.8 264.9h.7M452.4 271.2h.7M454.9 272.0h.7M439.1 274.1h.7M464.7 269.7h.7M454.7 270.5h.7M465.2 267.6h.7M460.4 266.6h.7M468.7 271.6h.7M441.2 260.6h.7M456.2 266.2h.7M457.2 272.1h.7M455.1 263.1h.7M448.8 267.6h.7M450.0 263.7h.7M453.8 263.4h.7M440.7 271.6h.7M444.0 265.8h.7M441.6 265.1h.7M445.7 270.8h.7M465.5 270.2h.7M468.2 265.4h.7M469.4 269.1h.7M448.3 263.3h.7M453.1 263.8h.7M442.8 271.5h.7M441.6 266.4h.7M442.2 265.1h.7M444.7 266.9h.7M450.1 266.1h.7M439.4 266.1h.7M460.7 262.3h.7M453.0 263.7h.7M448.3 266.7h.7M443.8 261.1h.7M462.9 269.3h.7M459.0 269.9h.7M450.6 269.2h.7M460.3 263.6h.7M459.8 273.9h.7M457.6 271.8h.7M447.5 270.8h.7M461.5 270.6h.7M456.4 262.3h.7M455.9 267.3h.7M465.7 269.0h.7M449.6 263.1h.7M448.6 268.6h.7M447.0 270.0h.7M459.1 264.4h.7M448.2 268.4h.7M465.0 271.9h.7M437.5 264.4h.7M466.1 263.8h.7M444.0 268.4h.7M443.0 265.2h.7M459.8 264.6h.7M466.4 274.6h.7M468.0 264.4h.7M468.5 263.2h.7M439.1 272.8h.7M448.0 267.8h.7M452.6 270.4h.7M468.2 262.2h.7M454.1 268.2h.7M452.1 264.5h.7M443.8 270.5h.7M468.6 262.3h.7M462.8 266.1h.7M446.2 264.7h.7M461.7 266.2h.7M447.0 268.8h.7M463.8 266.1h.7M452.9 267.5h.7M437.3 265.1h.7M466.3 268.2h.7M454.1 268.2h.7M450.7 268.6h.7M457.7 273.6h.7M464.8 269.4h.7M451.7 267.1h.7M459.5 265.5h.7M447.9 265.9h.7M449.2 273.2h.7M442.8 267.9h.7M458.6 266.1h.7M452.1 267.4h.7M457.0 265.0h.7M464.4 269.7h.7M455.5 262.7h.7M456.7 273.8h.7M454.1 265.5h.7M447.9 272.3h.7M476.3 263.0h.7M472.8 261.7h.7M473.9 255.9h.7M473.3 260.5h.7M474.1 260.2h.7M474.4 250.7h.7M471.4 260.9h.7M469.5 248.7h.7M476.4 250.6h.7M476.9 249.0h.7M473.2 263.2h.7M471.9 248.4h.7M472.4 248.3h.7M472.1 249.8h.7M475.1 251.5h.7M473.4 249.5h.7M473.7 262.1h.7M474.8 248.9h.7M477.1 259.9h.7M474.0 248.3h.7M477.5 247.7h.7M474.6 257.7h.7M471.3 247.8h.7M473.9 263.7h.7M474.2 251.5h.7M473.0 253.2h.7M479.1 260.5h.7M474.0 254.8h.7M476.1 256.8h.7M474.5 252.0h.7" stroke="#444" stroke-width="0.7" fill="none" opacity="0.45"/>
</g>
<rect x="420.7" y="236.8" width="59.2" height="47.2" fill="none" stroke="#000" stroke-width="1.15"/>
<line x1="470.2" y1="236.8" x2="470.2" y2="284" stroke="#111" stroke-width="1.0"/>
<line x1="420.7" y1="262.1" x2="479.9" y2="262.1" stroke="#111" stroke-width="1.0"/>
<text transform="translate(14.4 208.5) rotate(-90)" font-size="9.1" text-anchor="middle" >counts</text>
<line x1="11.6" y1="194.6" x2="11.6" y2="184.5" stroke="#111" stroke-width="0.8"/>
<path d="M11.6,182.4 L10,186 L13.2,186Z" fill="#111"/>
<line x1="12" y1="226.7" x2="12" y2="229.8" stroke="#111" stroke-width="0.8"/>
<text transform="translate(8.4 262.6) rotate(-90)" font-size="9.1" text-anchor="middle" >IFN-γ</text>
<text transform="translate(18.5 263.2) rotate(-90)" font-size="9.1" text-anchor="middle" >(log FI)</text>
<line x1="9.6" y1="249.5" x2="9.6" y2="242" stroke="#111" stroke-width="0.8"/>
<path d="M9.6,239.8 L8,243.6 L11.2,243.6Z" fill="#111"/>
<line x1="9.2" y1="281.8" x2="9.2" y2="287.6" stroke="#111" stroke-width="0.9"/>
<line x1="31.7" y1="292.4" x2="220.8" y2="292.4" stroke="#111" stroke-width="0.9"/>
<line x1="287.5" y1="292.4" x2="475.5" y2="292.4" stroke="#111" stroke-width="0.9"/>
<path d="M478.2,292.4 L475,290.9 L475,293.9Z" fill="#111"/>
<text x="226.5" y="295.8" font-size="9.3" text-anchor="start" >CFSE (log FI)</text>
</svg></body></html>
